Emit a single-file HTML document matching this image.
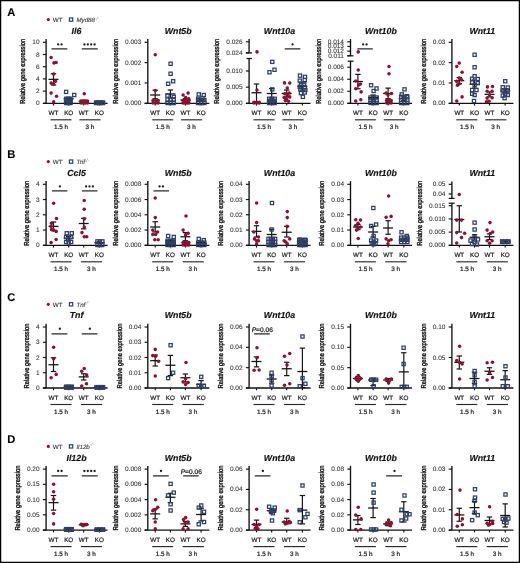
<!DOCTYPE html>
<html><head><meta charset="utf-8"><style>html,body{margin:0;padding:0;background:#fff;}body{width:520px;height:563px;overflow:hidden;font-family:"Liberation Sans",sans-serif;}svg{display:block;will-change:transform;filter:blur(0.3px);}text{text-rendering:geometricPrecision;}</style></head><body>
<svg width="520" height="563" viewBox="0 0 520 563" font-family="Liberation Sans, sans-serif">
<rect x="0" y="0" width="520" height="563" fill="#fff"/>
<rect x="0.6" y="0.6" width="518.8" height="561.8" fill="none" stroke="#000" stroke-width="1.3"/>
<text x="7.3" y="15.8" font-size="11.2" text-anchor="start" font-weight="bold" font-style="normal" fill="#000" stroke="#000" stroke-width="0.1" >A</text>
<circle cx="48.3" cy="19.6" r="1.6" fill="#8e1030"/>
<text x="52.8" y="21.8" font-size="6.3" text-anchor="start" font-weight="normal" font-style="normal" fill="#2a2a2a" stroke="#2a2a2a" stroke-width="0.08" >WT</text>
<rect x="69.4" y="17.95" width="3.3" height="3.3" fill="none" stroke="#2e3f68" stroke-width="1.2"/>
<text x="76.4" y="21.8" font-size="6.2" fill="#3a3a3a" stroke="#3a3a3a" stroke-width="0.12" font-style="italic">Myd88<tspan font-size="4.4" dy="-2.3" fill="#777" stroke="none">-/-</tspan></text>
<text x="76.5" y="33.7" font-size="8.8" text-anchor="middle" font-weight="bold" font-style="italic" fill="#111" stroke="#111" stroke-width="0.15" >Il6</text>
<line x1="46.1" y1="39.1" x2="46.1" y2="103.3" stroke="#111" stroke-width="1.35"/>
<line x1="42.9" y1="103.3" x2="107.6" y2="103.3" stroke="#111" stroke-width="1.3"/>
<line x1="42.9" y1="103.3" x2="46.1" y2="103.3" stroke="#111" stroke-width="1.15"/>
<text x="39.6" y="105.3" font-size="6.5" text-anchor="end" font-weight="normal" font-style="normal" fill="#333" stroke="#333" stroke-width="0.08" >0</text>
<line x1="42.9" y1="91.1" x2="46.1" y2="91.1" stroke="#111" stroke-width="1.15"/>
<text x="39.6" y="93.1" font-size="6.5" text-anchor="end" font-weight="normal" font-style="normal" fill="#333" stroke="#333" stroke-width="0.08" >2</text>
<line x1="42.9" y1="78.9" x2="46.1" y2="78.9" stroke="#111" stroke-width="1.15"/>
<text x="39.6" y="80.9" font-size="6.5" text-anchor="end" font-weight="normal" font-style="normal" fill="#333" stroke="#333" stroke-width="0.08" >4</text>
<line x1="42.9" y1="66.7" x2="46.1" y2="66.7" stroke="#111" stroke-width="1.15"/>
<text x="39.6" y="68.7" font-size="6.5" text-anchor="end" font-weight="normal" font-style="normal" fill="#333" stroke="#333" stroke-width="0.08" >6</text>
<line x1="42.9" y1="54.5" x2="46.1" y2="54.5" stroke="#111" stroke-width="1.15"/>
<text x="39.6" y="56.5" font-size="6.5" text-anchor="end" font-weight="normal" font-style="normal" fill="#333" stroke="#333" stroke-width="0.08" >8</text>
<line x1="42.9" y1="42.3" x2="46.1" y2="42.3" stroke="#111" stroke-width="1.15"/>
<text x="39.6" y="44.3" font-size="6.5" text-anchor="end" font-weight="normal" font-style="normal" fill="#333" stroke="#333" stroke-width="0.08" >10</text>
<text transform="translate(25.27,71.3) rotate(-90)" font-size="7.2" text-anchor="middle" fill="#1a1a1a" stroke="#1a1a1a" stroke-width="0.4" textLength="65" lengthAdjust="spacingAndGlyphs">Relative gene expression</text>
<line x1="53.5" y1="103.3" x2="53.5" y2="105.6" stroke="#111" stroke-width="1.15"/>
<text x="53.5" y="115.3" font-size="6.3" text-anchor="middle" font-weight="normal" font-style="normal" fill="#1e1e1e" stroke="#1e1e1e" stroke-width="0.22" >WT</text>
<line x1="68.7" y1="103.3" x2="68.7" y2="105.6" stroke="#111" stroke-width="1.15"/>
<text x="68.7" y="115.3" font-size="6.3" text-anchor="middle" font-weight="normal" font-style="normal" fill="#1e1e1e" stroke="#1e1e1e" stroke-width="0.22" >KO</text>
<line x1="83.7" y1="103.3" x2="83.7" y2="105.6" stroke="#111" stroke-width="1.15"/>
<text x="83.7" y="115.3" font-size="6.3" text-anchor="middle" font-weight="normal" font-style="normal" fill="#1e1e1e" stroke="#1e1e1e" stroke-width="0.22" >WT</text>
<line x1="99.4" y1="103.3" x2="99.4" y2="105.6" stroke="#111" stroke-width="1.15"/>
<text x="99.4" y="115.3" font-size="6.3" text-anchor="middle" font-weight="normal" font-style="normal" fill="#1e1e1e" stroke="#1e1e1e" stroke-width="0.22" >KO</text>
<line x1="50.5" y1="119.8" x2="71.5" y2="119.8" stroke="#2a2a2a" stroke-width="1.15"/>
<line x1="79.4" y1="119.8" x2="100.6" y2="119.8" stroke="#2a2a2a" stroke-width="1.15"/>
<text x="61.1" y="129.2" font-size="6.3" text-anchor="middle" font-weight="normal" font-style="normal" fill="#1e1e1e" stroke="#1e1e1e" stroke-width="0.22" >1.5 h</text>
<text x="89.8" y="129.2" font-size="6.3" text-anchor="middle" font-weight="normal" font-style="normal" fill="#1e1e1e" stroke="#1e1e1e" stroke-width="0.22" >3 h</text>
<line x1="53.5" y1="73.75" x2="53.5" y2="85" stroke="#161616" stroke-width="1.2"/>
<line x1="50.8" y1="73.75" x2="56.2" y2="73.75" stroke="#161616" stroke-width="1.2"/>
<line x1="50.8" y1="85" x2="56.2" y2="85" stroke="#161616" stroke-width="1.2"/>
<line x1="48.5" y1="79.38" x2="58.5" y2="79.38" stroke="#161616" stroke-width="1.3"/>
<line x1="68.7" y1="97.5" x2="68.7" y2="100" stroke="#161616" stroke-width="1.2"/>
<line x1="66" y1="97.5" x2="71.4" y2="97.5" stroke="#161616" stroke-width="1.2"/>
<line x1="66" y1="100" x2="71.4" y2="100" stroke="#161616" stroke-width="1.2"/>
<line x1="63.7" y1="98.75" x2="73.7" y2="98.75" stroke="#161616" stroke-width="1.3"/>
<line x1="83.7" y1="100.25" x2="83.7" y2="102.25" stroke="#161616" stroke-width="1.2"/>
<line x1="81" y1="100.25" x2="86.4" y2="100.25" stroke="#161616" stroke-width="1.2"/>
<line x1="81" y1="102.25" x2="86.4" y2="102.25" stroke="#161616" stroke-width="1.2"/>
<line x1="78.7" y1="101.25" x2="88.7" y2="101.25" stroke="#161616" stroke-width="1.3"/>
<line x1="99.4" y1="101.75" x2="99.4" y2="102.5" stroke="#161616" stroke-width="1.2"/>
<line x1="96.7" y1="101.75" x2="102.1" y2="101.75" stroke="#161616" stroke-width="1.2"/>
<line x1="96.7" y1="102.5" x2="102.1" y2="102.5" stroke="#161616" stroke-width="1.2"/>
<line x1="94.4" y1="102.12" x2="104.4" y2="102.12" stroke="#161616" stroke-width="1.3"/>
<circle cx="51.12" cy="57.5" r="1.76" fill="#8e1030"/>
<circle cx="54" cy="62.88" r="1.76" fill="#8e1030"/>
<circle cx="56.12" cy="62.5" r="1.76" fill="#8e1030"/>
<circle cx="53.62" cy="74" r="1.76" fill="#8e1030"/>
<circle cx="51.12" cy="83.12" r="1.76" fill="#8e1030"/>
<circle cx="55.5" cy="81.25" r="1.76" fill="#8e1030"/>
<circle cx="53.62" cy="84" r="1.76" fill="#8e1030"/>
<circle cx="51.12" cy="93.12" r="1.76" fill="#8e1030"/>
<circle cx="56.5" cy="96.25" r="1.76" fill="#8e1030"/>
<circle cx="53.62" cy="101.88" r="1.76" fill="#8e1030"/>
<rect x="64.55" y="97.18" width="3.2" height="3.2" fill="none" stroke="#2e3f68" stroke-width="1.25"/>
<rect x="64.55" y="99.29" width="3.2" height="3.2" fill="none" stroke="#2e3f68" stroke-width="1.25"/>
<rect x="64.55" y="101.4" width="3.2" height="3.2" fill="none" stroke="#2e3f68" stroke-width="1.25"/>
<rect x="66.71" y="97.18" width="3.2" height="3.2" fill="none" stroke="#2e3f68" stroke-width="1.25"/>
<rect x="66.71" y="99.29" width="3.2" height="3.2" fill="none" stroke="#2e3f68" stroke-width="1.25"/>
<rect x="66.71" y="101.4" width="3.2" height="3.2" fill="none" stroke="#2e3f68" stroke-width="1.25"/>
<rect x="68.88" y="97.18" width="3.2" height="3.2" fill="none" stroke="#2e3f68" stroke-width="1.25"/>
<rect x="68.88" y="99.29" width="3.2" height="3.2" fill="none" stroke="#2e3f68" stroke-width="1.25"/>
<rect x="68.88" y="101.4" width="3.2" height="3.2" fill="none" stroke="#2e3f68" stroke-width="1.25"/>
<rect x="64.53" y="90.28" width="3.2" height="3.2" fill="none" stroke="#2e3f68" stroke-width="1.25"/>
<rect x="72.65" y="93.4" width="3.2" height="3.2" fill="none" stroke="#2e3f68" stroke-width="1.25"/>
<circle cx="81" cy="101.12" r="1.76" fill="#8e1030"/>
<circle cx="81" cy="103" r="1.76" fill="#8e1030"/>
<circle cx="83.17" cy="101.12" r="1.76" fill="#8e1030"/>
<circle cx="83.17" cy="103" r="1.76" fill="#8e1030"/>
<circle cx="85.33" cy="101.12" r="1.76" fill="#8e1030"/>
<circle cx="85.33" cy="103" r="1.76" fill="#8e1030"/>
<circle cx="87.5" cy="101.12" r="1.76" fill="#8e1030"/>
<circle cx="87.5" cy="103" r="1.76" fill="#8e1030"/>
<circle cx="84.25" cy="93.75" r="1.76" fill="#8e1030"/>
<rect x="94.55" y="100.93" width="3.2" height="3.2" fill="none" stroke="#2e3f68" stroke-width="1.25"/>
<rect x="94.55" y="101.4" width="3.2" height="3.2" fill="none" stroke="#2e3f68" stroke-width="1.25"/>
<rect x="96.83" y="100.93" width="3.2" height="3.2" fill="none" stroke="#2e3f68" stroke-width="1.25"/>
<rect x="96.83" y="101.4" width="3.2" height="3.2" fill="none" stroke="#2e3f68" stroke-width="1.25"/>
<rect x="99.1" y="100.93" width="3.2" height="3.2" fill="none" stroke="#2e3f68" stroke-width="1.25"/>
<rect x="99.1" y="101.4" width="3.2" height="3.2" fill="none" stroke="#2e3f68" stroke-width="1.25"/>
<rect x="101.38" y="100.93" width="3.2" height="3.2" fill="none" stroke="#2e3f68" stroke-width="1.25"/>
<rect x="101.38" y="101.4" width="3.2" height="3.2" fill="none" stroke="#2e3f68" stroke-width="1.25"/>
<line x1="51.5" y1="48.88" x2="67.38" y2="48.88" stroke="#262626" stroke-width="1.25"/>
<circle cx="58.17" cy="44.38" r="1.15" fill="#1a1a1a"/>
<circle cx="61.57" cy="44.38" r="1.15" fill="#1a1a1a"/>
<line x1="81.75" y1="48.88" x2="97.75" y2="48.88" stroke="#262626" stroke-width="1.25"/>
<circle cx="84.4" cy="44.38" r="1.15" fill="#1a1a1a"/>
<circle cx="87.8" cy="44.38" r="1.15" fill="#1a1a1a"/>
<circle cx="91.2" cy="44.38" r="1.15" fill="#1a1a1a"/>
<circle cx="94.6" cy="44.38" r="1.15" fill="#1a1a1a"/>
<text x="178.2" y="33.7" font-size="8.8" text-anchor="middle" font-weight="bold" font-style="italic" fill="#111" stroke="#111" stroke-width="0.15" >Wnt5b</text>
<line x1="147.8" y1="39.1" x2="147.8" y2="103.3" stroke="#111" stroke-width="1.35"/>
<line x1="144.6" y1="103.3" x2="209.3" y2="103.3" stroke="#111" stroke-width="1.3"/>
<line x1="144.6" y1="103.3" x2="147.8" y2="103.3" stroke="#111" stroke-width="1.15"/>
<text x="141.3" y="105.3" font-size="6.5" text-anchor="end" font-weight="normal" font-style="normal" fill="#333" stroke="#333" stroke-width="0.08" >0.000</text>
<line x1="144.6" y1="82.97" x2="147.8" y2="82.97" stroke="#111" stroke-width="1.15"/>
<text x="141.3" y="84.97" font-size="6.5" text-anchor="end" font-weight="normal" font-style="normal" fill="#333" stroke="#333" stroke-width="0.08" >0.001</text>
<line x1="144.6" y1="62.63" x2="147.8" y2="62.63" stroke="#111" stroke-width="1.15"/>
<text x="141.3" y="64.63" font-size="6.5" text-anchor="end" font-weight="normal" font-style="normal" fill="#333" stroke="#333" stroke-width="0.08" >0.002</text>
<line x1="144.6" y1="42.3" x2="147.8" y2="42.3" stroke="#111" stroke-width="1.15"/>
<text x="141.3" y="44.3" font-size="6.5" text-anchor="end" font-weight="normal" font-style="normal" fill="#333" stroke="#333" stroke-width="0.08" >0.003</text>
<text transform="translate(117.94,71.3) rotate(-90)" font-size="7.2" text-anchor="middle" fill="#1a1a1a" stroke="#1a1a1a" stroke-width="0.4" textLength="65" lengthAdjust="spacingAndGlyphs">Relative gene expression</text>
<line x1="155.2" y1="103.3" x2="155.2" y2="105.6" stroke="#111" stroke-width="1.15"/>
<text x="155.2" y="115.3" font-size="6.3" text-anchor="middle" font-weight="normal" font-style="normal" fill="#1e1e1e" stroke="#1e1e1e" stroke-width="0.22" >WT</text>
<line x1="170.4" y1="103.3" x2="170.4" y2="105.6" stroke="#111" stroke-width="1.15"/>
<text x="170.4" y="115.3" font-size="6.3" text-anchor="middle" font-weight="normal" font-style="normal" fill="#1e1e1e" stroke="#1e1e1e" stroke-width="0.22" >KO</text>
<line x1="185.4" y1="103.3" x2="185.4" y2="105.6" stroke="#111" stroke-width="1.15"/>
<text x="185.4" y="115.3" font-size="6.3" text-anchor="middle" font-weight="normal" font-style="normal" fill="#1e1e1e" stroke="#1e1e1e" stroke-width="0.22" >WT</text>
<line x1="201.1" y1="103.3" x2="201.1" y2="105.6" stroke="#111" stroke-width="1.15"/>
<text x="201.1" y="115.3" font-size="6.3" text-anchor="middle" font-weight="normal" font-style="normal" fill="#1e1e1e" stroke="#1e1e1e" stroke-width="0.22" >KO</text>
<line x1="152.2" y1="119.8" x2="173.2" y2="119.8" stroke="#2a2a2a" stroke-width="1.15"/>
<line x1="181.1" y1="119.8" x2="202.3" y2="119.8" stroke="#2a2a2a" stroke-width="1.15"/>
<text x="162.8" y="129.2" font-size="6.3" text-anchor="middle" font-weight="normal" font-style="normal" fill="#1e1e1e" stroke="#1e1e1e" stroke-width="0.22" >1.5 h</text>
<text x="191.5" y="129.2" font-size="6.3" text-anchor="middle" font-weight="normal" font-style="normal" fill="#1e1e1e" stroke="#1e1e1e" stroke-width="0.22" >3 h</text>
<line x1="155.2" y1="90.25" x2="155.2" y2="98.75" stroke="#161616" stroke-width="1.2"/>
<line x1="152.5" y1="90.25" x2="157.9" y2="90.25" stroke="#161616" stroke-width="1.2"/>
<line x1="152.5" y1="98.75" x2="157.9" y2="98.75" stroke="#161616" stroke-width="1.2"/>
<line x1="150.2" y1="95" x2="160.2" y2="95" stroke="#161616" stroke-width="1.3"/>
<line x1="170.4" y1="90" x2="170.4" y2="98.12" stroke="#161616" stroke-width="1.2"/>
<line x1="167.7" y1="90" x2="173.1" y2="90" stroke="#161616" stroke-width="1.2"/>
<line x1="167.7" y1="98.12" x2="173.1" y2="98.12" stroke="#161616" stroke-width="1.2"/>
<line x1="165.4" y1="94" x2="175.4" y2="94" stroke="#161616" stroke-width="1.3"/>
<line x1="185.4" y1="98.75" x2="185.4" y2="101.25" stroke="#161616" stroke-width="1.2"/>
<line x1="182.7" y1="98.75" x2="188.1" y2="98.75" stroke="#161616" stroke-width="1.2"/>
<line x1="182.7" y1="101.25" x2="188.1" y2="101.25" stroke="#161616" stroke-width="1.2"/>
<line x1="180.4" y1="100" x2="190.4" y2="100" stroke="#161616" stroke-width="1.3"/>
<line x1="201.1" y1="98.75" x2="201.1" y2="101.25" stroke="#161616" stroke-width="1.2"/>
<line x1="198.4" y1="98.75" x2="203.8" y2="98.75" stroke="#161616" stroke-width="1.2"/>
<line x1="198.4" y1="101.25" x2="203.8" y2="101.25" stroke="#161616" stroke-width="1.2"/>
<line x1="196.1" y1="100" x2="206.1" y2="100" stroke="#161616" stroke-width="1.3"/>
<circle cx="153" cy="100.5" r="1.76" fill="#8e1030"/>
<circle cx="153" cy="103" r="1.76" fill="#8e1030"/>
<circle cx="155.62" cy="100.5" r="1.76" fill="#8e1030"/>
<circle cx="155.62" cy="103" r="1.76" fill="#8e1030"/>
<circle cx="158.25" cy="100.5" r="1.76" fill="#8e1030"/>
<circle cx="158.25" cy="103" r="1.76" fill="#8e1030"/>
<circle cx="155.25" cy="54.75" r="1.76" fill="#8e1030"/>
<circle cx="155.25" cy="90.62" r="1.76" fill="#8e1030"/>
<rect x="165.93" y="97.8" width="3.2" height="3.2" fill="none" stroke="#2e3f68" stroke-width="1.25"/>
<rect x="165.93" y="101.4" width="3.2" height="3.2" fill="none" stroke="#2e3f68" stroke-width="1.25"/>
<rect x="169.03" y="97.8" width="3.2" height="3.2" fill="none" stroke="#2e3f68" stroke-width="1.25"/>
<rect x="169.03" y="101.4" width="3.2" height="3.2" fill="none" stroke="#2e3f68" stroke-width="1.25"/>
<rect x="172.12" y="97.8" width="3.2" height="3.2" fill="none" stroke="#2e3f68" stroke-width="1.25"/>
<rect x="172.12" y="101.4" width="3.2" height="3.2" fill="none" stroke="#2e3f68" stroke-width="1.25"/>
<rect x="169.03" y="62.15" width="3.2" height="3.2" fill="none" stroke="#2e3f68" stroke-width="1.25"/>
<rect x="169.03" y="72.15" width="3.2" height="3.2" fill="none" stroke="#2e3f68" stroke-width="1.25"/>
<rect x="171.53" y="79.65" width="3.2" height="3.2" fill="none" stroke="#2e3f68" stroke-width="1.25"/>
<rect x="166.53" y="82.15" width="3.2" height="3.2" fill="none" stroke="#2e3f68" stroke-width="1.25"/>
<rect x="165.9" y="94.03" width="3.2" height="3.2" fill="none" stroke="#2e3f68" stroke-width="1.25"/>
<rect x="172.15" y="95.28" width="3.2" height="3.2" fill="none" stroke="#2e3f68" stroke-width="1.25"/>
<circle cx="183" cy="100.5" r="1.76" fill="#8e1030"/>
<circle cx="183" cy="103" r="1.76" fill="#8e1030"/>
<circle cx="184.96" cy="100.5" r="1.76" fill="#8e1030"/>
<circle cx="184.96" cy="103" r="1.76" fill="#8e1030"/>
<circle cx="186.92" cy="100.5" r="1.76" fill="#8e1030"/>
<circle cx="186.92" cy="103" r="1.76" fill="#8e1030"/>
<circle cx="188.88" cy="100.5" r="1.76" fill="#8e1030"/>
<circle cx="188.88" cy="103" r="1.76" fill="#8e1030"/>
<circle cx="188.12" cy="93.12" r="1.76" fill="#8e1030"/>
<circle cx="183.12" cy="95" r="1.76" fill="#8e1030"/>
<circle cx="185.62" cy="97.5" r="1.76" fill="#8e1030"/>
<circle cx="188.75" cy="98.75" r="1.76" fill="#8e1030"/>
<rect x="196.55" y="98.43" width="3.2" height="3.2" fill="none" stroke="#2e3f68" stroke-width="1.25"/>
<rect x="196.55" y="101.4" width="3.2" height="3.2" fill="none" stroke="#2e3f68" stroke-width="1.25"/>
<rect x="199.65" y="98.43" width="3.2" height="3.2" fill="none" stroke="#2e3f68" stroke-width="1.25"/>
<rect x="199.65" y="101.4" width="3.2" height="3.2" fill="none" stroke="#2e3f68" stroke-width="1.25"/>
<rect x="202.75" y="98.43" width="3.2" height="3.2" fill="none" stroke="#2e3f68" stroke-width="1.25"/>
<rect x="202.75" y="101.4" width="3.2" height="3.2" fill="none" stroke="#2e3f68" stroke-width="1.25"/>
<rect x="197.15" y="92.78" width="3.2" height="3.2" fill="none" stroke="#2e3f68" stroke-width="1.25"/>
<rect x="202.15" y="93.4" width="3.2" height="3.2" fill="none" stroke="#2e3f68" stroke-width="1.25"/>
<rect x="196.53" y="97.15" width="3.2" height="3.2" fill="none" stroke="#2e3f68" stroke-width="1.25"/>
<rect x="200.9" y="96.53" width="3.2" height="3.2" fill="none" stroke="#2e3f68" stroke-width="1.25"/>
<text x="279.5" y="33.7" font-size="8.8" text-anchor="middle" font-weight="bold" font-style="italic" fill="#111" stroke="#111" stroke-width="0.15" >Wnt10a</text>
<line x1="249.1" y1="39.1" x2="249.1" y2="52.9" stroke="#111" stroke-width="1.35"/>
<line x1="249.1" y1="58.5" x2="249.1" y2="103.3" stroke="#111" stroke-width="1.35"/>
<line x1="245.9" y1="52.9" x2="252.1" y2="52.9" stroke="#111" stroke-width="1.25"/>
<line x1="246.5" y1="58.5" x2="251.9" y2="58.5" stroke="#111" stroke-width="1.25"/>
<line x1="245.9" y1="103.3" x2="310.6" y2="103.3" stroke="#111" stroke-width="1.3"/>
<line x1="245.9" y1="103.3" x2="249.1" y2="103.3" stroke="#111" stroke-width="1.15"/>
<text x="242.6" y="105.3" font-size="6.5" text-anchor="end" font-weight="normal" font-style="normal" fill="#333" stroke="#333" stroke-width="0.08" >0.000</text>
<line x1="245.9" y1="87.15" x2="249.1" y2="87.15" stroke="#111" stroke-width="1.15"/>
<text x="242.6" y="89.15" font-size="6.5" text-anchor="end" font-weight="normal" font-style="normal" fill="#333" stroke="#333" stroke-width="0.08" >0.005</text>
<line x1="245.9" y1="71" x2="249.1" y2="71" stroke="#111" stroke-width="1.15"/>
<text x="242.6" y="73" font-size="6.5" text-anchor="end" font-weight="normal" font-style="normal" fill="#333" stroke="#333" stroke-width="0.08" >0.010</text>
<line x1="245.9" y1="52.9" x2="249.1" y2="52.9" stroke="#111" stroke-width="1.15"/>
<text x="242.6" y="54.9" font-size="6.5" text-anchor="end" font-weight="normal" font-style="normal" fill="#333" stroke="#333" stroke-width="0.08" >0.024</text>
<line x1="245.9" y1="41.8" x2="249.1" y2="41.8" stroke="#111" stroke-width="1.15"/>
<text x="242.6" y="43.8" font-size="6.5" text-anchor="end" font-weight="normal" font-style="normal" fill="#333" stroke="#333" stroke-width="0.08" >0.026</text>
<text transform="translate(219.24,71.3) rotate(-90)" font-size="7.2" text-anchor="middle" fill="#1a1a1a" stroke="#1a1a1a" stroke-width="0.4" textLength="65" lengthAdjust="spacingAndGlyphs">Relative gene expression</text>
<line x1="256.5" y1="103.3" x2="256.5" y2="105.6" stroke="#111" stroke-width="1.15"/>
<text x="256.5" y="115.3" font-size="6.3" text-anchor="middle" font-weight="normal" font-style="normal" fill="#1e1e1e" stroke="#1e1e1e" stroke-width="0.22" >WT</text>
<line x1="271.7" y1="103.3" x2="271.7" y2="105.6" stroke="#111" stroke-width="1.15"/>
<text x="271.7" y="115.3" font-size="6.3" text-anchor="middle" font-weight="normal" font-style="normal" fill="#1e1e1e" stroke="#1e1e1e" stroke-width="0.22" >KO</text>
<line x1="286.7" y1="103.3" x2="286.7" y2="105.6" stroke="#111" stroke-width="1.15"/>
<text x="286.7" y="115.3" font-size="6.3" text-anchor="middle" font-weight="normal" font-style="normal" fill="#1e1e1e" stroke="#1e1e1e" stroke-width="0.22" >WT</text>
<line x1="302.4" y1="103.3" x2="302.4" y2="105.6" stroke="#111" stroke-width="1.15"/>
<text x="302.4" y="115.3" font-size="6.3" text-anchor="middle" font-weight="normal" font-style="normal" fill="#1e1e1e" stroke="#1e1e1e" stroke-width="0.22" >KO</text>
<line x1="253.5" y1="119.8" x2="274.5" y2="119.8" stroke="#2a2a2a" stroke-width="1.15"/>
<line x1="282.4" y1="119.8" x2="303.6" y2="119.8" stroke="#2a2a2a" stroke-width="1.15"/>
<text x="264.1" y="129.2" font-size="6.3" text-anchor="middle" font-weight="normal" font-style="normal" fill="#1e1e1e" stroke="#1e1e1e" stroke-width="0.22" >1.5 h</text>
<text x="292.8" y="129.2" font-size="6.3" text-anchor="middle" font-weight="normal" font-style="normal" fill="#1e1e1e" stroke="#1e1e1e" stroke-width="0.22" >3 h</text>
<line x1="256.5" y1="84" x2="256.5" y2="103.12" stroke="#161616" stroke-width="1.2"/>
<line x1="253.8" y1="84" x2="259.2" y2="84" stroke="#161616" stroke-width="1.2"/>
<line x1="253.8" y1="103.12" x2="259.2" y2="103.12" stroke="#161616" stroke-width="1.2"/>
<line x1="251.5" y1="92.75" x2="261.5" y2="92.75" stroke="#161616" stroke-width="1.3"/>
<line x1="271.7" y1="88.5" x2="271.7" y2="98.12" stroke="#161616" stroke-width="1.2"/>
<line x1="269" y1="88.5" x2="274.4" y2="88.5" stroke="#161616" stroke-width="1.2"/>
<line x1="269" y1="98.12" x2="274.4" y2="98.12" stroke="#161616" stroke-width="1.2"/>
<line x1="266.7" y1="93.5" x2="276.7" y2="93.5" stroke="#161616" stroke-width="1.3"/>
<line x1="286.7" y1="90" x2="286.7" y2="96.88" stroke="#161616" stroke-width="1.2"/>
<line x1="284" y1="90" x2="289.4" y2="90" stroke="#161616" stroke-width="1.2"/>
<line x1="284" y1="96.88" x2="289.4" y2="96.88" stroke="#161616" stroke-width="1.2"/>
<line x1="281.7" y1="93.5" x2="291.7" y2="93.5" stroke="#161616" stroke-width="1.3"/>
<line x1="302.4" y1="83.12" x2="302.4" y2="90" stroke="#161616" stroke-width="1.2"/>
<line x1="299.7" y1="83.12" x2="305.1" y2="83.12" stroke="#161616" stroke-width="1.2"/>
<line x1="299.7" y1="90" x2="305.1" y2="90" stroke="#161616" stroke-width="1.2"/>
<line x1="297.4" y1="86.25" x2="307.4" y2="86.25" stroke="#161616" stroke-width="1.3"/>
<circle cx="254" cy="102.38" r="1.76" fill="#8e1030"/>
<circle cx="254" cy="103" r="1.76" fill="#8e1030"/>
<circle cx="256.62" cy="102.38" r="1.76" fill="#8e1030"/>
<circle cx="256.62" cy="103" r="1.76" fill="#8e1030"/>
<circle cx="259.25" cy="102.38" r="1.76" fill="#8e1030"/>
<circle cx="259.25" cy="103" r="1.76" fill="#8e1030"/>
<circle cx="257" cy="51.88" r="1.76" fill="#8e1030"/>
<circle cx="257" cy="90" r="1.76" fill="#8e1030"/>
<rect x="267.55" y="97.18" width="3.2" height="3.2" fill="none" stroke="#2e3f68" stroke-width="1.25"/>
<rect x="267.55" y="99.29" width="3.2" height="3.2" fill="none" stroke="#2e3f68" stroke-width="1.25"/>
<rect x="267.55" y="101.4" width="3.2" height="3.2" fill="none" stroke="#2e3f68" stroke-width="1.25"/>
<rect x="270.34" y="97.18" width="3.2" height="3.2" fill="none" stroke="#2e3f68" stroke-width="1.25"/>
<rect x="270.34" y="99.29" width="3.2" height="3.2" fill="none" stroke="#2e3f68" stroke-width="1.25"/>
<rect x="270.34" y="101.4" width="3.2" height="3.2" fill="none" stroke="#2e3f68" stroke-width="1.25"/>
<rect x="273.12" y="97.18" width="3.2" height="3.2" fill="none" stroke="#2e3f68" stroke-width="1.25"/>
<rect x="273.12" y="99.29" width="3.2" height="3.2" fill="none" stroke="#2e3f68" stroke-width="1.25"/>
<rect x="273.12" y="101.4" width="3.2" height="3.2" fill="none" stroke="#2e3f68" stroke-width="1.25"/>
<rect x="270.65" y="60.27" width="3.2" height="3.2" fill="none" stroke="#2e3f68" stroke-width="1.25"/>
<rect x="272.9" y="68.15" width="3.2" height="3.2" fill="none" stroke="#2e3f68" stroke-width="1.25"/>
<rect x="267.9" y="70.65" width="3.2" height="3.2" fill="none" stroke="#2e3f68" stroke-width="1.25"/>
<rect x="270.65" y="87.78" width="3.2" height="3.2" fill="none" stroke="#2e3f68" stroke-width="1.25"/>
<circle cx="284.5" cy="82.88" r="1.76" fill="#8e1030"/>
<circle cx="289.75" cy="83.12" r="1.76" fill="#8e1030"/>
<circle cx="287.25" cy="88.12" r="1.76" fill="#8e1030"/>
<circle cx="284.75" cy="93.75" r="1.76" fill="#8e1030"/>
<circle cx="289.12" cy="93.12" r="1.76" fill="#8e1030"/>
<circle cx="287.25" cy="95" r="1.76" fill="#8e1030"/>
<circle cx="284.12" cy="97.5" r="1.76" fill="#8e1030"/>
<circle cx="289.75" cy="96.88" r="1.76" fill="#8e1030"/>
<circle cx="286.62" cy="98.75" r="1.76" fill="#8e1030"/>
<circle cx="288.5" cy="101.25" r="1.76" fill="#8e1030"/>
<circle cx="285.38" cy="100.62" r="1.76" fill="#8e1030"/>
<rect x="298.4" y="74.03" width="3.2" height="3.2" fill="none" stroke="#2e3f68" stroke-width="1.25"/>
<rect x="303.4" y="75.28" width="3.2" height="3.2" fill="none" stroke="#2e3f68" stroke-width="1.25"/>
<rect x="298.15" y="79.03" width="3.2" height="3.2" fill="none" stroke="#2e3f68" stroke-width="1.25"/>
<rect x="303.15" y="78.4" width="3.2" height="3.2" fill="none" stroke="#2e3f68" stroke-width="1.25"/>
<rect x="299.4" y="82.15" width="3.2" height="3.2" fill="none" stroke="#2e3f68" stroke-width="1.25"/>
<rect x="302.52" y="82.15" width="3.2" height="3.2" fill="none" stroke="#2e3f68" stroke-width="1.25"/>
<rect x="298.15" y="85.28" width="3.2" height="3.2" fill="none" stroke="#2e3f68" stroke-width="1.25"/>
<rect x="303.15" y="85.9" width="3.2" height="3.2" fill="none" stroke="#2e3f68" stroke-width="1.25"/>
<rect x="298.77" y="87.78" width="3.2" height="3.2" fill="none" stroke="#2e3f68" stroke-width="1.25"/>
<rect x="303.77" y="88.4" width="3.2" height="3.2" fill="none" stroke="#2e3f68" stroke-width="1.25"/>
<rect x="299.4" y="91.53" width="3.2" height="3.2" fill="none" stroke="#2e3f68" stroke-width="1.25"/>
<rect x="303.15" y="90.9" width="3.2" height="3.2" fill="none" stroke="#2e3f68" stroke-width="1.25"/>
<rect x="301.27" y="95.28" width="3.2" height="3.2" fill="none" stroke="#2e3f68" stroke-width="1.25"/>
<line x1="284.75" y1="48.88" x2="300.38" y2="48.88" stroke="#262626" stroke-width="1.25"/>
<circle cx="292.5" cy="44.38" r="1.15" fill="#1a1a1a"/>
<text x="380.9" y="33.7" font-size="8.8" text-anchor="middle" font-weight="bold" font-style="italic" fill="#111" stroke="#111" stroke-width="0.15" >Wnt10b</text>
<line x1="350.5" y1="39.1" x2="350.5" y2="55.8" stroke="#111" stroke-width="1.35"/>
<line x1="350.5" y1="61.2" x2="350.5" y2="103.3" stroke="#111" stroke-width="1.35"/>
<line x1="347.3" y1="55.8" x2="353.5" y2="55.8" stroke="#111" stroke-width="1.25"/>
<line x1="347.8" y1="61.2" x2="353.5" y2="61.2" stroke="#111" stroke-width="1.25"/>
<line x1="347.3" y1="103.3" x2="412" y2="103.3" stroke="#111" stroke-width="1.3"/>
<line x1="347.3" y1="103.3" x2="350.5" y2="103.3" stroke="#111" stroke-width="1.15"/>
<text x="344" y="105.3" font-size="6.5" text-anchor="end" font-weight="normal" font-style="normal" fill="#333" stroke="#333" stroke-width="0.08" >0.000</text>
<line x1="347.3" y1="91.27" x2="350.5" y2="91.27" stroke="#111" stroke-width="1.15"/>
<text x="344" y="93.27" font-size="6.5" text-anchor="end" font-weight="normal" font-style="normal" fill="#333" stroke="#333" stroke-width="0.08" >0.002</text>
<line x1="347.3" y1="79.24" x2="350.5" y2="79.24" stroke="#111" stroke-width="1.15"/>
<text x="344" y="81.24" font-size="6.5" text-anchor="end" font-weight="normal" font-style="normal" fill="#333" stroke="#333" stroke-width="0.08" >0.004</text>
<line x1="347.3" y1="67.21" x2="350.5" y2="67.21" stroke="#111" stroke-width="1.15"/>
<text x="344" y="69.21" font-size="6.5" text-anchor="end" font-weight="normal" font-style="normal" fill="#333" stroke="#333" stroke-width="0.08" >0.006</text>
<line x1="347.3" y1="55.8" x2="350.5" y2="55.8" stroke="#111" stroke-width="1.15"/>
<text x="344" y="57.8" font-size="6.5" text-anchor="end" font-weight="normal" font-style="normal" fill="#333" stroke="#333" stroke-width="0.08" >0.011</text>
<line x1="347.3" y1="51.13" x2="350.5" y2="51.13" stroke="#111" stroke-width="1.15"/>
<text x="344" y="53.13" font-size="6.5" text-anchor="end" font-weight="normal" font-style="normal" fill="#333" stroke="#333" stroke-width="0.08" >0.012</text>
<line x1="347.3" y1="46.46" x2="350.5" y2="46.46" stroke="#111" stroke-width="1.15"/>
<text x="344" y="48.46" font-size="6.5" text-anchor="end" font-weight="normal" font-style="normal" fill="#333" stroke="#333" stroke-width="0.08" >0.013</text>
<line x1="347.3" y1="41.79" x2="350.5" y2="41.79" stroke="#111" stroke-width="1.15"/>
<text x="344" y="43.79" font-size="6.5" text-anchor="end" font-weight="normal" font-style="normal" fill="#333" stroke="#333" stroke-width="0.08" >0.014</text>
<text transform="translate(320.64,71.3) rotate(-90)" font-size="7.2" text-anchor="middle" fill="#1a1a1a" stroke="#1a1a1a" stroke-width="0.4" textLength="65" lengthAdjust="spacingAndGlyphs">Relative gene expression</text>
<line x1="357.9" y1="103.3" x2="357.9" y2="105.6" stroke="#111" stroke-width="1.15"/>
<text x="357.9" y="115.3" font-size="6.3" text-anchor="middle" font-weight="normal" font-style="normal" fill="#1e1e1e" stroke="#1e1e1e" stroke-width="0.22" >WT</text>
<line x1="373.1" y1="103.3" x2="373.1" y2="105.6" stroke="#111" stroke-width="1.15"/>
<text x="373.1" y="115.3" font-size="6.3" text-anchor="middle" font-weight="normal" font-style="normal" fill="#1e1e1e" stroke="#1e1e1e" stroke-width="0.22" >KO</text>
<line x1="388.1" y1="103.3" x2="388.1" y2="105.6" stroke="#111" stroke-width="1.15"/>
<text x="388.1" y="115.3" font-size="6.3" text-anchor="middle" font-weight="normal" font-style="normal" fill="#1e1e1e" stroke="#1e1e1e" stroke-width="0.22" >WT</text>
<line x1="403.8" y1="103.3" x2="403.8" y2="105.6" stroke="#111" stroke-width="1.15"/>
<text x="403.8" y="115.3" font-size="6.3" text-anchor="middle" font-weight="normal" font-style="normal" fill="#1e1e1e" stroke="#1e1e1e" stroke-width="0.22" >KO</text>
<line x1="354.9" y1="119.8" x2="375.9" y2="119.8" stroke="#2a2a2a" stroke-width="1.15"/>
<line x1="383.8" y1="119.8" x2="405" y2="119.8" stroke="#2a2a2a" stroke-width="1.15"/>
<text x="365.5" y="129.2" font-size="6.3" text-anchor="middle" font-weight="normal" font-style="normal" fill="#1e1e1e" stroke="#1e1e1e" stroke-width="0.22" >1.5 h</text>
<text x="394.2" y="129.2" font-size="6.3" text-anchor="middle" font-weight="normal" font-style="normal" fill="#1e1e1e" stroke="#1e1e1e" stroke-width="0.22" >3 h</text>
<line x1="357.9" y1="74.38" x2="357.9" y2="88.75" stroke="#161616" stroke-width="1.2"/>
<line x1="355.2" y1="74.38" x2="360.6" y2="74.38" stroke="#161616" stroke-width="1.2"/>
<line x1="355.2" y1="88.75" x2="360.6" y2="88.75" stroke="#161616" stroke-width="1.2"/>
<line x1="352.9" y1="81.5" x2="362.9" y2="81.5" stroke="#161616" stroke-width="1.3"/>
<line x1="373.1" y1="95" x2="373.1" y2="100" stroke="#161616" stroke-width="1.2"/>
<line x1="370.4" y1="95" x2="375.8" y2="95" stroke="#161616" stroke-width="1.2"/>
<line x1="370.4" y1="100" x2="375.8" y2="100" stroke="#161616" stroke-width="1.2"/>
<line x1="368.1" y1="97.5" x2="378.1" y2="97.5" stroke="#161616" stroke-width="1.3"/>
<line x1="388.1" y1="88.12" x2="388.1" y2="98.75" stroke="#161616" stroke-width="1.2"/>
<line x1="385.4" y1="88.12" x2="390.8" y2="88.12" stroke="#161616" stroke-width="1.2"/>
<line x1="385.4" y1="98.75" x2="390.8" y2="98.75" stroke="#161616" stroke-width="1.2"/>
<line x1="383.1" y1="93.5" x2="393.1" y2="93.5" stroke="#161616" stroke-width="1.3"/>
<line x1="403.8" y1="96.88" x2="403.8" y2="100.62" stroke="#161616" stroke-width="1.2"/>
<line x1="401.1" y1="96.88" x2="406.5" y2="96.88" stroke="#161616" stroke-width="1.2"/>
<line x1="401.1" y1="100.62" x2="406.5" y2="100.62" stroke="#161616" stroke-width="1.2"/>
<line x1="398.8" y1="98.75" x2="408.8" y2="98.75" stroke="#161616" stroke-width="1.3"/>
<circle cx="358.25" cy="51.88" r="1.76" fill="#8e1030"/>
<circle cx="358.25" cy="70" r="1.76" fill="#8e1030"/>
<circle cx="355.75" cy="81" r="1.76" fill="#8e1030"/>
<circle cx="360.5" cy="84" r="1.76" fill="#8e1030"/>
<circle cx="358.62" cy="85" r="1.76" fill="#8e1030"/>
<circle cx="355.75" cy="88.75" r="1.76" fill="#8e1030"/>
<circle cx="361.12" cy="91.88" r="1.76" fill="#8e1030"/>
<circle cx="355.75" cy="101" r="1.76" fill="#8e1030"/>
<circle cx="360.75" cy="99.75" r="1.76" fill="#8e1030"/>
<rect x="368.92" y="95.93" width="3.2" height="3.2" fill="none" stroke="#2e3f68" stroke-width="1.25"/>
<rect x="368.92" y="98.66" width="3.2" height="3.2" fill="none" stroke="#2e3f68" stroke-width="1.25"/>
<rect x="368.92" y="101.4" width="3.2" height="3.2" fill="none" stroke="#2e3f68" stroke-width="1.25"/>
<rect x="372.02" y="95.93" width="3.2" height="3.2" fill="none" stroke="#2e3f68" stroke-width="1.25"/>
<rect x="372.02" y="98.66" width="3.2" height="3.2" fill="none" stroke="#2e3f68" stroke-width="1.25"/>
<rect x="372.02" y="101.4" width="3.2" height="3.2" fill="none" stroke="#2e3f68" stroke-width="1.25"/>
<rect x="375.12" y="95.93" width="3.2" height="3.2" fill="none" stroke="#2e3f68" stroke-width="1.25"/>
<rect x="375.12" y="98.66" width="3.2" height="3.2" fill="none" stroke="#2e3f68" stroke-width="1.25"/>
<rect x="375.12" y="101.4" width="3.2" height="3.2" fill="none" stroke="#2e3f68" stroke-width="1.25"/>
<rect x="369.52" y="83.65" width="3.2" height="3.2" fill="none" stroke="#2e3f68" stroke-width="1.25"/>
<rect x="374.9" y="86.9" width="3.2" height="3.2" fill="none" stroke="#2e3f68" stroke-width="1.25"/>
<rect x="372.02" y="89.4" width="3.2" height="3.2" fill="none" stroke="#2e3f68" stroke-width="1.25"/>
<circle cx="386.62" cy="100.5" r="1.76" fill="#8e1030"/>
<circle cx="386.62" cy="103" r="1.76" fill="#8e1030"/>
<circle cx="388.94" cy="100.5" r="1.76" fill="#8e1030"/>
<circle cx="388.94" cy="103" r="1.76" fill="#8e1030"/>
<circle cx="391.25" cy="100.5" r="1.76" fill="#8e1030"/>
<circle cx="391.25" cy="103" r="1.76" fill="#8e1030"/>
<circle cx="389" cy="66.5" r="1.76" fill="#8e1030"/>
<circle cx="389" cy="73.75" r="1.76" fill="#8e1030"/>
<circle cx="386.12" cy="93.12" r="1.76" fill="#8e1030"/>
<circle cx="391.5" cy="93.5" r="1.76" fill="#8e1030"/>
<circle cx="388" cy="95" r="1.76" fill="#8e1030"/>
<rect x="399.55" y="95.3" width="3.2" height="3.2" fill="none" stroke="#2e3f68" stroke-width="1.25"/>
<rect x="399.55" y="98.35" width="3.2" height="3.2" fill="none" stroke="#2e3f68" stroke-width="1.25"/>
<rect x="399.55" y="101.4" width="3.2" height="3.2" fill="none" stroke="#2e3f68" stroke-width="1.25"/>
<rect x="402.65" y="95.3" width="3.2" height="3.2" fill="none" stroke="#2e3f68" stroke-width="1.25"/>
<rect x="402.65" y="98.35" width="3.2" height="3.2" fill="none" stroke="#2e3f68" stroke-width="1.25"/>
<rect x="402.65" y="101.4" width="3.2" height="3.2" fill="none" stroke="#2e3f68" stroke-width="1.25"/>
<rect x="405.75" y="95.3" width="3.2" height="3.2" fill="none" stroke="#2e3f68" stroke-width="1.25"/>
<rect x="405.75" y="98.35" width="3.2" height="3.2" fill="none" stroke="#2e3f68" stroke-width="1.25"/>
<rect x="405.75" y="101.4" width="3.2" height="3.2" fill="none" stroke="#2e3f68" stroke-width="1.25"/>
<rect x="402.9" y="87.78" width="3.2" height="3.2" fill="none" stroke="#2e3f68" stroke-width="1.25"/>
<rect x="400.15" y="92.78" width="3.2" height="3.2" fill="none" stroke="#2e3f68" stroke-width="1.25"/>
<rect x="405.15" y="94.65" width="3.2" height="3.2" fill="none" stroke="#2e3f68" stroke-width="1.25"/>
<line x1="357.38" y1="48.88" x2="372.75" y2="48.88" stroke="#262626" stroke-width="1.25"/>
<circle cx="363.18" cy="44.38" r="1.15" fill="#1a1a1a"/>
<circle cx="366.57" cy="44.38" r="1.15" fill="#1a1a1a"/>
<text x="482.3" y="33.7" font-size="8.8" text-anchor="middle" font-weight="bold" font-style="italic" fill="#111" stroke="#111" stroke-width="0.15" >Wnt11</text>
<line x1="451.9" y1="39.1" x2="451.9" y2="103.3" stroke="#111" stroke-width="1.35"/>
<line x1="448.7" y1="103.3" x2="513.4" y2="103.3" stroke="#111" stroke-width="1.3"/>
<line x1="448.7" y1="103.3" x2="451.9" y2="103.3" stroke="#111" stroke-width="1.15"/>
<text x="445.4" y="105.3" font-size="6.5" text-anchor="end" font-weight="normal" font-style="normal" fill="#333" stroke="#333" stroke-width="0.08" >0.00</text>
<line x1="448.7" y1="82.97" x2="451.9" y2="82.97" stroke="#111" stroke-width="1.15"/>
<text x="445.4" y="84.97" font-size="6.5" text-anchor="end" font-weight="normal" font-style="normal" fill="#333" stroke="#333" stroke-width="0.08" >0.01</text>
<line x1="448.7" y1="62.63" x2="451.9" y2="62.63" stroke="#111" stroke-width="1.15"/>
<text x="445.4" y="64.63" font-size="6.5" text-anchor="end" font-weight="normal" font-style="normal" fill="#333" stroke="#333" stroke-width="0.08" >0.02</text>
<line x1="448.7" y1="42.3" x2="451.9" y2="42.3" stroke="#111" stroke-width="1.15"/>
<text x="445.4" y="44.3" font-size="6.5" text-anchor="end" font-weight="normal" font-style="normal" fill="#333" stroke="#333" stroke-width="0.08" >0.03</text>
<text transform="translate(425.65,71.3) rotate(-90)" font-size="7.2" text-anchor="middle" fill="#1a1a1a" stroke="#1a1a1a" stroke-width="0.4" textLength="65" lengthAdjust="spacingAndGlyphs">Relative gene expression</text>
<line x1="459.3" y1="103.3" x2="459.3" y2="105.6" stroke="#111" stroke-width="1.15"/>
<text x="459.3" y="115.3" font-size="6.3" text-anchor="middle" font-weight="normal" font-style="normal" fill="#1e1e1e" stroke="#1e1e1e" stroke-width="0.22" >WT</text>
<line x1="474.5" y1="103.3" x2="474.5" y2="105.6" stroke="#111" stroke-width="1.15"/>
<text x="474.5" y="115.3" font-size="6.3" text-anchor="middle" font-weight="normal" font-style="normal" fill="#1e1e1e" stroke="#1e1e1e" stroke-width="0.22" >KO</text>
<line x1="489.5" y1="103.3" x2="489.5" y2="105.6" stroke="#111" stroke-width="1.15"/>
<text x="489.5" y="115.3" font-size="6.3" text-anchor="middle" font-weight="normal" font-style="normal" fill="#1e1e1e" stroke="#1e1e1e" stroke-width="0.22" >WT</text>
<line x1="505.2" y1="103.3" x2="505.2" y2="105.6" stroke="#111" stroke-width="1.15"/>
<text x="505.2" y="115.3" font-size="6.3" text-anchor="middle" font-weight="normal" font-style="normal" fill="#1e1e1e" stroke="#1e1e1e" stroke-width="0.22" >KO</text>
<line x1="456.3" y1="119.8" x2="477.3" y2="119.8" stroke="#2a2a2a" stroke-width="1.15"/>
<line x1="485.2" y1="119.8" x2="506.4" y2="119.8" stroke="#2a2a2a" stroke-width="1.15"/>
<text x="466.9" y="129.2" font-size="6.3" text-anchor="middle" font-weight="normal" font-style="normal" fill="#1e1e1e" stroke="#1e1e1e" stroke-width="0.22" >1.5 h</text>
<text x="495.6" y="129.2" font-size="6.3" text-anchor="middle" font-weight="normal" font-style="normal" fill="#1e1e1e" stroke="#1e1e1e" stroke-width="0.22" >3 h</text>
<line x1="459.3" y1="77.5" x2="459.3" y2="83.75" stroke="#161616" stroke-width="1.2"/>
<line x1="456.6" y1="77.5" x2="462" y2="77.5" stroke="#161616" stroke-width="1.2"/>
<line x1="456.6" y1="83.75" x2="462" y2="83.75" stroke="#161616" stroke-width="1.2"/>
<line x1="454.3" y1="80.62" x2="464.3" y2="80.62" stroke="#161616" stroke-width="1.3"/>
<line x1="474.5" y1="80" x2="474.5" y2="88.12" stroke="#161616" stroke-width="1.2"/>
<line x1="471.8" y1="80" x2="477.2" y2="80" stroke="#161616" stroke-width="1.2"/>
<line x1="471.8" y1="88.12" x2="477.2" y2="88.12" stroke="#161616" stroke-width="1.2"/>
<line x1="469.5" y1="84.38" x2="479.5" y2="84.38" stroke="#161616" stroke-width="1.3"/>
<line x1="489.5" y1="91.88" x2="489.5" y2="96.88" stroke="#161616" stroke-width="1.2"/>
<line x1="486.8" y1="91.88" x2="492.2" y2="91.88" stroke="#161616" stroke-width="1.2"/>
<line x1="486.8" y1="96.88" x2="492.2" y2="96.88" stroke="#161616" stroke-width="1.2"/>
<line x1="484.5" y1="94.38" x2="494.5" y2="94.38" stroke="#161616" stroke-width="1.3"/>
<line x1="505.2" y1="88.75" x2="505.2" y2="93.12" stroke="#161616" stroke-width="1.2"/>
<line x1="502.5" y1="88.75" x2="507.9" y2="88.75" stroke="#161616" stroke-width="1.2"/>
<line x1="502.5" y1="93.12" x2="507.9" y2="93.12" stroke="#161616" stroke-width="1.2"/>
<line x1="500.2" y1="91" x2="510.2" y2="91" stroke="#161616" stroke-width="1.3"/>
<circle cx="459.25" cy="63.12" r="1.76" fill="#8e1030"/>
<circle cx="456.75" cy="66.5" r="1.76" fill="#8e1030"/>
<circle cx="462.12" cy="72.25" r="1.76" fill="#8e1030"/>
<circle cx="459.25" cy="78.12" r="1.76" fill="#8e1030"/>
<circle cx="456.75" cy="81.25" r="1.76" fill="#8e1030"/>
<circle cx="461.5" cy="79.75" r="1.76" fill="#8e1030"/>
<circle cx="459.25" cy="83.75" r="1.76" fill="#8e1030"/>
<circle cx="457.5" cy="85.25" r="1.76" fill="#8e1030"/>
<circle cx="462.12" cy="96.88" r="1.76" fill="#8e1030"/>
<circle cx="456.75" cy="101" r="1.76" fill="#8e1030"/>
<rect x="473.02" y="53.15" width="3.2" height="3.2" fill="none" stroke="#2e3f68" stroke-width="1.25"/>
<rect x="473.02" y="65.65" width="3.2" height="3.2" fill="none" stroke="#2e3f68" stroke-width="1.25"/>
<rect x="473.02" y="74.65" width="3.2" height="3.2" fill="none" stroke="#2e3f68" stroke-width="1.25"/>
<rect x="470.52" y="77.15" width="3.2" height="3.2" fill="none" stroke="#2e3f68" stroke-width="1.25"/>
<rect x="476.15" y="77.4" width="3.2" height="3.2" fill="none" stroke="#2e3f68" stroke-width="1.25"/>
<rect x="470.52" y="80.9" width="3.2" height="3.2" fill="none" stroke="#2e3f68" stroke-width="1.25"/>
<rect x="473.02" y="83.4" width="3.2" height="3.2" fill="none" stroke="#2e3f68" stroke-width="1.25"/>
<rect x="476.15" y="81.53" width="3.2" height="3.2" fill="none" stroke="#2e3f68" stroke-width="1.25"/>
<rect x="470.52" y="88.4" width="3.2" height="3.2" fill="none" stroke="#2e3f68" stroke-width="1.25"/>
<rect x="474.9" y="88.4" width="3.2" height="3.2" fill="none" stroke="#2e3f68" stroke-width="1.25"/>
<rect x="470.52" y="92.15" width="3.2" height="3.2" fill="none" stroke="#2e3f68" stroke-width="1.25"/>
<rect x="473.02" y="93.4" width="3.2" height="3.2" fill="none" stroke="#2e3f68" stroke-width="1.25"/>
<rect x="472.4" y="99.4" width="3.2" height="3.2" fill="none" stroke="#2e3f68" stroke-width="1.25"/>
<circle cx="487.5" cy="86.88" r="1.76" fill="#8e1030"/>
<circle cx="492.5" cy="86.5" r="1.76" fill="#8e1030"/>
<circle cx="487.12" cy="91.25" r="1.76" fill="#8e1030"/>
<circle cx="492.12" cy="91.25" r="1.76" fill="#8e1030"/>
<circle cx="489.62" cy="95" r="1.76" fill="#8e1030"/>
<circle cx="487.12" cy="98.12" r="1.76" fill="#8e1030"/>
<circle cx="492.12" cy="97.75" r="1.76" fill="#8e1030"/>
<circle cx="489" cy="101.25" r="1.76" fill="#8e1030"/>
<circle cx="486.5" cy="101.88" r="1.76" fill="#8e1030"/>
<rect x="503.65" y="79.65" width="3.2" height="3.2" fill="none" stroke="#2e3f68" stroke-width="1.25"/>
<rect x="501.15" y="85.65" width="3.2" height="3.2" fill="none" stroke="#2e3f68" stroke-width="1.25"/>
<rect x="506.15" y="85.9" width="3.2" height="3.2" fill="none" stroke="#2e3f68" stroke-width="1.25"/>
<rect x="501.15" y="89.03" width="3.2" height="3.2" fill="none" stroke="#2e3f68" stroke-width="1.25"/>
<rect x="506.15" y="89.03" width="3.2" height="3.2" fill="none" stroke="#2e3f68" stroke-width="1.25"/>
<rect x="503.65" y="92.15" width="3.2" height="3.2" fill="none" stroke="#2e3f68" stroke-width="1.25"/>
<rect x="501.15" y="94.03" width="3.2" height="3.2" fill="none" stroke="#2e3f68" stroke-width="1.25"/>
<rect x="506.15" y="93.4" width="3.2" height="3.2" fill="none" stroke="#2e3f68" stroke-width="1.25"/>
<rect x="503.02" y="96.53" width="3.2" height="3.2" fill="none" stroke="#2e3f68" stroke-width="1.25"/>
<text x="7.3" y="157.8" font-size="11.2" text-anchor="start" font-weight="bold" font-style="normal" fill="#000" stroke="#000" stroke-width="0.1" >B</text>
<circle cx="48.3" cy="161.6" r="1.6" fill="#8e1030"/>
<text x="52.8" y="163.8" font-size="6.3" text-anchor="start" font-weight="normal" font-style="normal" fill="#2a2a2a" stroke="#2a2a2a" stroke-width="0.08" >WT</text>
<rect x="69.4" y="159.95" width="3.3" height="3.3" fill="none" stroke="#2e3f68" stroke-width="1.2"/>
<text x="76.4" y="163.8" font-size="6.2" fill="#3a3a3a" stroke="#3a3a3a" stroke-width="0.12" font-style="italic">Trif<tspan font-size="4.4" dy="-2.3" fill="#777" stroke="none">-/-</tspan></text>
<text x="76.5" y="175.7" font-size="8.8" text-anchor="middle" font-weight="bold" font-style="italic" fill="#111" stroke="#111" stroke-width="0.15" >Ccl5</text>
<line x1="46.1" y1="181.1" x2="46.1" y2="245.3" stroke="#111" stroke-width="1.35"/>
<line x1="42.9" y1="245.3" x2="107.6" y2="245.3" stroke="#111" stroke-width="1.3"/>
<line x1="42.9" y1="245.3" x2="46.1" y2="245.3" stroke="#111" stroke-width="1.15"/>
<text x="39.6" y="247.3" font-size="6.5" text-anchor="end" font-weight="normal" font-style="normal" fill="#333" stroke="#333" stroke-width="0.08" >0</text>
<line x1="42.9" y1="230.05" x2="46.1" y2="230.05" stroke="#111" stroke-width="1.15"/>
<text x="39.6" y="232.05" font-size="6.5" text-anchor="end" font-weight="normal" font-style="normal" fill="#333" stroke="#333" stroke-width="0.08" >1</text>
<line x1="42.9" y1="214.8" x2="46.1" y2="214.8" stroke="#111" stroke-width="1.15"/>
<text x="39.6" y="216.8" font-size="6.5" text-anchor="end" font-weight="normal" font-style="normal" fill="#333" stroke="#333" stroke-width="0.08" >2</text>
<line x1="42.9" y1="199.55" x2="46.1" y2="199.55" stroke="#111" stroke-width="1.15"/>
<text x="39.6" y="201.55" font-size="6.5" text-anchor="end" font-weight="normal" font-style="normal" fill="#333" stroke="#333" stroke-width="0.08" >3</text>
<line x1="42.9" y1="184.3" x2="46.1" y2="184.3" stroke="#111" stroke-width="1.15"/>
<text x="39.6" y="186.3" font-size="6.5" text-anchor="end" font-weight="normal" font-style="normal" fill="#333" stroke="#333" stroke-width="0.08" >4</text>
<text transform="translate(28.89,213.3) rotate(-90)" font-size="7.2" text-anchor="middle" fill="#1a1a1a" stroke="#1a1a1a" stroke-width="0.4" textLength="65" lengthAdjust="spacingAndGlyphs">Relative gene expression</text>
<line x1="53.5" y1="245.3" x2="53.5" y2="247.6" stroke="#111" stroke-width="1.15"/>
<text x="53.5" y="257.3" font-size="6.3" text-anchor="middle" font-weight="normal" font-style="normal" fill="#1e1e1e" stroke="#1e1e1e" stroke-width="0.22" >WT</text>
<line x1="68.7" y1="245.3" x2="68.7" y2="247.6" stroke="#111" stroke-width="1.15"/>
<text x="68.7" y="257.3" font-size="6.3" text-anchor="middle" font-weight="normal" font-style="normal" fill="#1e1e1e" stroke="#1e1e1e" stroke-width="0.22" >KO</text>
<line x1="83.7" y1="245.3" x2="83.7" y2="247.6" stroke="#111" stroke-width="1.15"/>
<text x="83.7" y="257.3" font-size="6.3" text-anchor="middle" font-weight="normal" font-style="normal" fill="#1e1e1e" stroke="#1e1e1e" stroke-width="0.22" >WT</text>
<line x1="99.4" y1="245.3" x2="99.4" y2="247.6" stroke="#111" stroke-width="1.15"/>
<text x="99.4" y="257.3" font-size="6.3" text-anchor="middle" font-weight="normal" font-style="normal" fill="#1e1e1e" stroke="#1e1e1e" stroke-width="0.22" >KO</text>
<line x1="50.5" y1="261.8" x2="71.5" y2="261.8" stroke="#2a2a2a" stroke-width="1.15"/>
<line x1="80.9" y1="261.8" x2="102.1" y2="261.8" stroke="#2a2a2a" stroke-width="1.15"/>
<text x="61.1" y="271.2" font-size="6.3" text-anchor="middle" font-weight="normal" font-style="normal" fill="#1e1e1e" stroke="#1e1e1e" stroke-width="0.22" >1.5 h</text>
<text x="91.3" y="271.2" font-size="6.3" text-anchor="middle" font-weight="normal" font-style="normal" fill="#1e1e1e" stroke="#1e1e1e" stroke-width="0.22" >3 h</text>
<line x1="53.5" y1="222" x2="53.5" y2="230.75" stroke="#161616" stroke-width="1.2"/>
<line x1="50.8" y1="222" x2="56.2" y2="222" stroke="#161616" stroke-width="1.2"/>
<line x1="50.8" y1="230.75" x2="56.2" y2="230.75" stroke="#161616" stroke-width="1.2"/>
<line x1="48.5" y1="226.38" x2="58.5" y2="226.38" stroke="#161616" stroke-width="1.3"/>
<line x1="68.7" y1="236.38" x2="68.7" y2="240.12" stroke="#161616" stroke-width="1.2"/>
<line x1="66" y1="236.38" x2="71.4" y2="236.38" stroke="#161616" stroke-width="1.2"/>
<line x1="66" y1="240.12" x2="71.4" y2="240.12" stroke="#161616" stroke-width="1.2"/>
<line x1="63.7" y1="238.25" x2="73.7" y2="238.25" stroke="#161616" stroke-width="1.3"/>
<line x1="83.7" y1="218.25" x2="83.7" y2="228.88" stroke="#161616" stroke-width="1.2"/>
<line x1="81" y1="218.25" x2="86.4" y2="218.25" stroke="#161616" stroke-width="1.2"/>
<line x1="81" y1="228.88" x2="86.4" y2="228.88" stroke="#161616" stroke-width="1.2"/>
<line x1="78.7" y1="223.5" x2="88.7" y2="223.5" stroke="#161616" stroke-width="1.3"/>
<line x1="99.4" y1="241.75" x2="99.4" y2="243.5" stroke="#161616" stroke-width="1.2"/>
<line x1="96.7" y1="241.75" x2="102.1" y2="241.75" stroke="#161616" stroke-width="1.2"/>
<line x1="96.7" y1="243.5" x2="102.1" y2="243.5" stroke="#161616" stroke-width="1.2"/>
<line x1="94.4" y1="242.62" x2="104.4" y2="242.62" stroke="#161616" stroke-width="1.3"/>
<circle cx="53.62" cy="203.25" r="1.76" fill="#8e1030"/>
<circle cx="56.5" cy="218.5" r="1.76" fill="#8e1030"/>
<circle cx="51.5" cy="223.25" r="1.76" fill="#8e1030"/>
<circle cx="51.12" cy="226.38" r="1.76" fill="#8e1030"/>
<circle cx="53.62" cy="230.12" r="1.76" fill="#8e1030"/>
<circle cx="51.5" cy="229.5" r="1.76" fill="#8e1030"/>
<circle cx="56.12" cy="231.38" r="1.76" fill="#8e1030"/>
<circle cx="56.12" cy="239.5" r="1.76" fill="#8e1030"/>
<circle cx="51.12" cy="242.62" r="1.76" fill="#8e1030"/>
<rect x="65.15" y="231.65" width="3.2" height="3.2" fill="none" stroke="#2e3f68" stroke-width="1.25"/>
<rect x="70.15" y="231.65" width="3.2" height="3.2" fill="none" stroke="#2e3f68" stroke-width="1.25"/>
<rect x="64.53" y="235.4" width="3.2" height="3.2" fill="none" stroke="#2e3f68" stroke-width="1.25"/>
<rect x="69.53" y="235.4" width="3.2" height="3.2" fill="none" stroke="#2e3f68" stroke-width="1.25"/>
<rect x="66.4" y="237.9" width="3.2" height="3.2" fill="none" stroke="#2e3f68" stroke-width="1.25"/>
<rect x="64.53" y="240.4" width="3.2" height="3.2" fill="none" stroke="#2e3f68" stroke-width="1.25"/>
<rect x="69.53" y="240.4" width="3.2" height="3.2" fill="none" stroke="#2e3f68" stroke-width="1.25"/>
<rect x="67.03" y="241.65" width="3.2" height="3.2" fill="none" stroke="#2e3f68" stroke-width="1.25"/>
<circle cx="84.25" cy="200.5" r="1.76" fill="#8e1030"/>
<circle cx="84.25" cy="209.25" r="1.76" fill="#8e1030"/>
<circle cx="84.25" cy="218.88" r="1.76" fill="#8e1030"/>
<circle cx="82" cy="232.62" r="1.76" fill="#8e1030"/>
<circle cx="84.25" cy="236.75" r="1.76" fill="#8e1030"/>
<circle cx="86.75" cy="236.75" r="1.76" fill="#8e1030"/>
<circle cx="84.25" cy="227" r="1.76" fill="#8e1030"/>
<rect x="95.8" y="239.8" width="3.2" height="3.2" fill="none" stroke="#2e3f68" stroke-width="1.25"/>
<rect x="95.8" y="243.4" width="3.2" height="3.2" fill="none" stroke="#2e3f68" stroke-width="1.25"/>
<rect x="98.28" y="239.8" width="3.2" height="3.2" fill="none" stroke="#2e3f68" stroke-width="1.25"/>
<rect x="98.28" y="243.4" width="3.2" height="3.2" fill="none" stroke="#2e3f68" stroke-width="1.25"/>
<rect x="100.75" y="239.8" width="3.2" height="3.2" fill="none" stroke="#2e3f68" stroke-width="1.25"/>
<rect x="100.75" y="243.4" width="3.2" height="3.2" fill="none" stroke="#2e3f68" stroke-width="1.25"/>
<line x1="52" y1="190.88" x2="67.38" y2="190.88" stroke="#262626" stroke-width="1.25"/>
<circle cx="59.88" cy="186.38" r="1.15" fill="#1a1a1a"/>
<line x1="82" y1="190.88" x2="97.38" y2="190.88" stroke="#262626" stroke-width="1.25"/>
<circle cx="86.1" cy="186.38" r="1.15" fill="#1a1a1a"/>
<circle cx="89.5" cy="186.38" r="1.15" fill="#1a1a1a"/>
<circle cx="92.9" cy="186.38" r="1.15" fill="#1a1a1a"/>
<text x="178.2" y="175.7" font-size="8.8" text-anchor="middle" font-weight="bold" font-style="italic" fill="#111" stroke="#111" stroke-width="0.15" >Wnt5b</text>
<line x1="147.8" y1="181.1" x2="147.8" y2="245.3" stroke="#111" stroke-width="1.35"/>
<line x1="144.6" y1="245.3" x2="209.3" y2="245.3" stroke="#111" stroke-width="1.3"/>
<line x1="144.6" y1="245.3" x2="147.8" y2="245.3" stroke="#111" stroke-width="1.15"/>
<text x="141.3" y="247.3" font-size="6.5" text-anchor="end" font-weight="normal" font-style="normal" fill="#333" stroke="#333" stroke-width="0.08" >0.000</text>
<line x1="144.6" y1="230.05" x2="147.8" y2="230.05" stroke="#111" stroke-width="1.15"/>
<text x="141.3" y="232.05" font-size="6.5" text-anchor="end" font-weight="normal" font-style="normal" fill="#333" stroke="#333" stroke-width="0.08" >0.002</text>
<line x1="144.6" y1="214.8" x2="147.8" y2="214.8" stroke="#111" stroke-width="1.15"/>
<text x="141.3" y="216.8" font-size="6.5" text-anchor="end" font-weight="normal" font-style="normal" fill="#333" stroke="#333" stroke-width="0.08" >0.004</text>
<line x1="144.6" y1="199.55" x2="147.8" y2="199.55" stroke="#111" stroke-width="1.15"/>
<text x="141.3" y="201.55" font-size="6.5" text-anchor="end" font-weight="normal" font-style="normal" fill="#333" stroke="#333" stroke-width="0.08" >0.006</text>
<line x1="144.6" y1="184.3" x2="147.8" y2="184.3" stroke="#111" stroke-width="1.15"/>
<text x="141.3" y="186.3" font-size="6.5" text-anchor="end" font-weight="normal" font-style="normal" fill="#333" stroke="#333" stroke-width="0.08" >0.008</text>
<text transform="translate(117.94,213.3) rotate(-90)" font-size="7.2" text-anchor="middle" fill="#1a1a1a" stroke="#1a1a1a" stroke-width="0.4" textLength="65" lengthAdjust="spacingAndGlyphs">Relative gene expression</text>
<line x1="155.2" y1="245.3" x2="155.2" y2="247.6" stroke="#111" stroke-width="1.15"/>
<text x="155.2" y="257.3" font-size="6.3" text-anchor="middle" font-weight="normal" font-style="normal" fill="#1e1e1e" stroke="#1e1e1e" stroke-width="0.22" >WT</text>
<line x1="170.4" y1="245.3" x2="170.4" y2="247.6" stroke="#111" stroke-width="1.15"/>
<text x="170.4" y="257.3" font-size="6.3" text-anchor="middle" font-weight="normal" font-style="normal" fill="#1e1e1e" stroke="#1e1e1e" stroke-width="0.22" >KO</text>
<line x1="185.4" y1="245.3" x2="185.4" y2="247.6" stroke="#111" stroke-width="1.15"/>
<text x="185.4" y="257.3" font-size="6.3" text-anchor="middle" font-weight="normal" font-style="normal" fill="#1e1e1e" stroke="#1e1e1e" stroke-width="0.22" >WT</text>
<line x1="201.1" y1="245.3" x2="201.1" y2="247.6" stroke="#111" stroke-width="1.15"/>
<text x="201.1" y="257.3" font-size="6.3" text-anchor="middle" font-weight="normal" font-style="normal" fill="#1e1e1e" stroke="#1e1e1e" stroke-width="0.22" >KO</text>
<line x1="152.2" y1="261.8" x2="173.2" y2="261.8" stroke="#2a2a2a" stroke-width="1.15"/>
<line x1="182.6" y1="261.8" x2="203.8" y2="261.8" stroke="#2a2a2a" stroke-width="1.15"/>
<text x="162.8" y="271.2" font-size="6.3" text-anchor="middle" font-weight="normal" font-style="normal" fill="#1e1e1e" stroke="#1e1e1e" stroke-width="0.22" >1.5 h</text>
<text x="193" y="271.2" font-size="6.3" text-anchor="middle" font-weight="normal" font-style="normal" fill="#1e1e1e" stroke="#1e1e1e" stroke-width="0.22" >3 h</text>
<line x1="155.2" y1="221.75" x2="155.2" y2="232" stroke="#161616" stroke-width="1.2"/>
<line x1="152.5" y1="221.75" x2="157.9" y2="221.75" stroke="#161616" stroke-width="1.2"/>
<line x1="152.5" y1="232" x2="157.9" y2="232" stroke="#161616" stroke-width="1.2"/>
<line x1="150.2" y1="227" x2="160.2" y2="227" stroke="#161616" stroke-width="1.3"/>
<line x1="170.4" y1="239.5" x2="170.4" y2="242" stroke="#161616" stroke-width="1.2"/>
<line x1="167.7" y1="239.5" x2="173.1" y2="239.5" stroke="#161616" stroke-width="1.2"/>
<line x1="167.7" y1="242" x2="173.1" y2="242" stroke="#161616" stroke-width="1.2"/>
<line x1="165.4" y1="240.75" x2="175.4" y2="240.75" stroke="#161616" stroke-width="1.3"/>
<line x1="185.4" y1="232.62" x2="185.4" y2="240.75" stroke="#161616" stroke-width="1.2"/>
<line x1="182.7" y1="232.62" x2="188.1" y2="232.62" stroke="#161616" stroke-width="1.2"/>
<line x1="182.7" y1="240.75" x2="188.1" y2="240.75" stroke="#161616" stroke-width="1.2"/>
<line x1="180.4" y1="236.75" x2="190.4" y2="236.75" stroke="#161616" stroke-width="1.3"/>
<line x1="201.1" y1="241.75" x2="201.1" y2="243.5" stroke="#161616" stroke-width="1.2"/>
<line x1="198.4" y1="241.75" x2="203.8" y2="241.75" stroke="#161616" stroke-width="1.2"/>
<line x1="198.4" y1="243.5" x2="203.8" y2="243.5" stroke="#161616" stroke-width="1.2"/>
<line x1="196.1" y1="242.62" x2="206.1" y2="242.62" stroke="#161616" stroke-width="1.3"/>
<circle cx="155.25" cy="198" r="1.76" fill="#8e1030"/>
<circle cx="155.25" cy="217.62" r="1.76" fill="#8e1030"/>
<circle cx="152.75" cy="230.12" r="1.76" fill="#8e1030"/>
<circle cx="157.5" cy="232" r="1.76" fill="#8e1030"/>
<circle cx="152.75" cy="234.5" r="1.76" fill="#8e1030"/>
<circle cx="155.62" cy="234.5" r="1.76" fill="#8e1030"/>
<circle cx="154.75" cy="239.75" r="1.76" fill="#8e1030"/>
<circle cx="158.12" cy="239.75" r="1.76" fill="#8e1030"/>
<rect x="165.93" y="239.18" width="3.2" height="3.2" fill="none" stroke="#2e3f68" stroke-width="1.25"/>
<rect x="165.93" y="241.29" width="3.2" height="3.2" fill="none" stroke="#2e3f68" stroke-width="1.25"/>
<rect x="165.93" y="243.4" width="3.2" height="3.2" fill="none" stroke="#2e3f68" stroke-width="1.25"/>
<rect x="169.03" y="239.18" width="3.2" height="3.2" fill="none" stroke="#2e3f68" stroke-width="1.25"/>
<rect x="169.03" y="241.29" width="3.2" height="3.2" fill="none" stroke="#2e3f68" stroke-width="1.25"/>
<rect x="169.03" y="243.4" width="3.2" height="3.2" fill="none" stroke="#2e3f68" stroke-width="1.25"/>
<rect x="172.12" y="239.18" width="3.2" height="3.2" fill="none" stroke="#2e3f68" stroke-width="1.25"/>
<rect x="172.12" y="241.29" width="3.2" height="3.2" fill="none" stroke="#2e3f68" stroke-width="1.25"/>
<rect x="172.12" y="243.4" width="3.2" height="3.2" fill="none" stroke="#2e3f68" stroke-width="1.25"/>
<rect x="166.53" y="234.4" width="3.2" height="3.2" fill="none" stroke="#2e3f68" stroke-width="1.25"/>
<rect x="172.15" y="235.4" width="3.2" height="3.2" fill="none" stroke="#2e3f68" stroke-width="1.25"/>
<circle cx="183" cy="242.5" r="1.76" fill="#8e1030"/>
<circle cx="183" cy="245" r="1.76" fill="#8e1030"/>
<circle cx="184.96" cy="242.5" r="1.76" fill="#8e1030"/>
<circle cx="184.96" cy="245" r="1.76" fill="#8e1030"/>
<circle cx="186.92" cy="242.5" r="1.76" fill="#8e1030"/>
<circle cx="186.92" cy="245" r="1.76" fill="#8e1030"/>
<circle cx="188.88" cy="242.5" r="1.76" fill="#8e1030"/>
<circle cx="188.88" cy="245" r="1.76" fill="#8e1030"/>
<circle cx="186" cy="216" r="1.76" fill="#8e1030"/>
<circle cx="183.12" cy="230.12" r="1.76" fill="#8e1030"/>
<circle cx="188.12" cy="233.25" r="1.76" fill="#8e1030"/>
<circle cx="185.62" cy="235.12" r="1.76" fill="#8e1030"/>
<rect x="196.55" y="241.05" width="3.2" height="3.2" fill="none" stroke="#2e3f68" stroke-width="1.25"/>
<rect x="196.55" y="243.4" width="3.2" height="3.2" fill="none" stroke="#2e3f68" stroke-width="1.25"/>
<rect x="199.65" y="241.05" width="3.2" height="3.2" fill="none" stroke="#2e3f68" stroke-width="1.25"/>
<rect x="199.65" y="243.4" width="3.2" height="3.2" fill="none" stroke="#2e3f68" stroke-width="1.25"/>
<rect x="202.75" y="241.05" width="3.2" height="3.2" fill="none" stroke="#2e3f68" stroke-width="1.25"/>
<rect x="202.75" y="243.4" width="3.2" height="3.2" fill="none" stroke="#2e3f68" stroke-width="1.25"/>
<rect x="197.15" y="237.28" width="3.2" height="3.2" fill="none" stroke="#2e3f68" stroke-width="1.25"/>
<rect x="202.15" y="238.53" width="3.2" height="3.2" fill="none" stroke="#2e3f68" stroke-width="1.25"/>
<line x1="153.5" y1="190.88" x2="169" y2="190.88" stroke="#262626" stroke-width="1.25"/>
<circle cx="159.55" cy="186.38" r="1.15" fill="#1a1a1a"/>
<circle cx="162.95" cy="186.38" r="1.15" fill="#1a1a1a"/>
<text x="279.5" y="175.7" font-size="8.8" text-anchor="middle" font-weight="bold" font-style="italic" fill="#111" stroke="#111" stroke-width="0.15" >Wnt10a</text>
<line x1="249.1" y1="181.1" x2="249.1" y2="245.3" stroke="#111" stroke-width="1.35"/>
<line x1="245.9" y1="245.3" x2="310.6" y2="245.3" stroke="#111" stroke-width="1.3"/>
<line x1="245.9" y1="245.3" x2="249.1" y2="245.3" stroke="#111" stroke-width="1.15"/>
<text x="242.6" y="247.3" font-size="6.5" text-anchor="end" font-weight="normal" font-style="normal" fill="#333" stroke="#333" stroke-width="0.08" >0.00</text>
<line x1="245.9" y1="230.05" x2="249.1" y2="230.05" stroke="#111" stroke-width="1.15"/>
<text x="242.6" y="232.05" font-size="6.5" text-anchor="end" font-weight="normal" font-style="normal" fill="#333" stroke="#333" stroke-width="0.08" >0.01</text>
<line x1="245.9" y1="214.8" x2="249.1" y2="214.8" stroke="#111" stroke-width="1.15"/>
<text x="242.6" y="216.8" font-size="6.5" text-anchor="end" font-weight="normal" font-style="normal" fill="#333" stroke="#333" stroke-width="0.08" >0.02</text>
<line x1="245.9" y1="199.55" x2="249.1" y2="199.55" stroke="#111" stroke-width="1.15"/>
<text x="242.6" y="201.55" font-size="6.5" text-anchor="end" font-weight="normal" font-style="normal" fill="#333" stroke="#333" stroke-width="0.08" >0.03</text>
<line x1="245.9" y1="184.3" x2="249.1" y2="184.3" stroke="#111" stroke-width="1.15"/>
<text x="242.6" y="186.3" font-size="6.5" text-anchor="end" font-weight="normal" font-style="normal" fill="#333" stroke="#333" stroke-width="0.08" >0.04</text>
<text transform="translate(222.85,213.3) rotate(-90)" font-size="7.2" text-anchor="middle" fill="#1a1a1a" stroke="#1a1a1a" stroke-width="0.4" textLength="65" lengthAdjust="spacingAndGlyphs">Relative gene expression</text>
<line x1="256.5" y1="245.3" x2="256.5" y2="247.6" stroke="#111" stroke-width="1.15"/>
<text x="256.5" y="257.3" font-size="6.3" text-anchor="middle" font-weight="normal" font-style="normal" fill="#1e1e1e" stroke="#1e1e1e" stroke-width="0.22" >WT</text>
<line x1="271.7" y1="245.3" x2="271.7" y2="247.6" stroke="#111" stroke-width="1.15"/>
<text x="271.7" y="257.3" font-size="6.3" text-anchor="middle" font-weight="normal" font-style="normal" fill="#1e1e1e" stroke="#1e1e1e" stroke-width="0.22" >KO</text>
<line x1="286.7" y1="245.3" x2="286.7" y2="247.6" stroke="#111" stroke-width="1.15"/>
<text x="286.7" y="257.3" font-size="6.3" text-anchor="middle" font-weight="normal" font-style="normal" fill="#1e1e1e" stroke="#1e1e1e" stroke-width="0.22" >WT</text>
<line x1="302.4" y1="245.3" x2="302.4" y2="247.6" stroke="#111" stroke-width="1.15"/>
<text x="302.4" y="257.3" font-size="6.3" text-anchor="middle" font-weight="normal" font-style="normal" fill="#1e1e1e" stroke="#1e1e1e" stroke-width="0.22" >KO</text>
<line x1="253.5" y1="261.8" x2="274.5" y2="261.8" stroke="#2a2a2a" stroke-width="1.15"/>
<line x1="283.9" y1="261.8" x2="305.1" y2="261.8" stroke="#2a2a2a" stroke-width="1.15"/>
<text x="264.1" y="271.2" font-size="6.3" text-anchor="middle" font-weight="normal" font-style="normal" fill="#1e1e1e" stroke="#1e1e1e" stroke-width="0.22" >1.5 h</text>
<text x="294.3" y="271.2" font-size="6.3" text-anchor="middle" font-weight="normal" font-style="normal" fill="#1e1e1e" stroke="#1e1e1e" stroke-width="0.22" >3 h</text>
<line x1="256.5" y1="225.75" x2="256.5" y2="237" stroke="#161616" stroke-width="1.2"/>
<line x1="253.8" y1="225.75" x2="259.2" y2="225.75" stroke="#161616" stroke-width="1.2"/>
<line x1="253.8" y1="237" x2="259.2" y2="237" stroke="#161616" stroke-width="1.2"/>
<line x1="251.5" y1="231.38" x2="261.5" y2="231.38" stroke="#161616" stroke-width="1.3"/>
<line x1="271.7" y1="229.25" x2="271.7" y2="237.62" stroke="#161616" stroke-width="1.2"/>
<line x1="269" y1="229.25" x2="274.4" y2="229.25" stroke="#161616" stroke-width="1.2"/>
<line x1="269" y1="237.62" x2="274.4" y2="237.62" stroke="#161616" stroke-width="1.2"/>
<line x1="266.7" y1="234.5" x2="276.7" y2="234.5" stroke="#161616" stroke-width="1.3"/>
<line x1="286.7" y1="226.38" x2="286.7" y2="237" stroke="#161616" stroke-width="1.2"/>
<line x1="284" y1="226.38" x2="289.4" y2="226.38" stroke="#161616" stroke-width="1.2"/>
<line x1="284" y1="237" x2="289.4" y2="237" stroke="#161616" stroke-width="1.2"/>
<line x1="281.7" y1="232.25" x2="291.7" y2="232.25" stroke="#161616" stroke-width="1.3"/>
<line x1="302.4" y1="240.75" x2="302.4" y2="243.25" stroke="#161616" stroke-width="1.2"/>
<line x1="299.7" y1="240.75" x2="305.1" y2="240.75" stroke="#161616" stroke-width="1.2"/>
<line x1="299.7" y1="243.25" x2="305.1" y2="243.25" stroke="#161616" stroke-width="1.2"/>
<line x1="297.4" y1="242" x2="307.4" y2="242" stroke="#161616" stroke-width="1.3"/>
<circle cx="256.62" cy="203" r="1.76" fill="#8e1030"/>
<circle cx="256.62" cy="222.62" r="1.76" fill="#8e1030"/>
<circle cx="253.75" cy="232" r="1.76" fill="#8e1030"/>
<circle cx="254.5" cy="238.88" r="1.76" fill="#8e1030"/>
<circle cx="258.5" cy="237" r="1.76" fill="#8e1030"/>
<circle cx="256.62" cy="240.75" r="1.76" fill="#8e1030"/>
<circle cx="258.5" cy="240.75" r="1.76" fill="#8e1030"/>
<circle cx="256.62" cy="243.88" r="1.76" fill="#8e1030"/>
<rect x="266.92" y="237.3" width="3.2" height="3.2" fill="none" stroke="#2e3f68" stroke-width="1.25"/>
<rect x="266.92" y="240.35" width="3.2" height="3.2" fill="none" stroke="#2e3f68" stroke-width="1.25"/>
<rect x="266.92" y="243.4" width="3.2" height="3.2" fill="none" stroke="#2e3f68" stroke-width="1.25"/>
<rect x="269.12" y="237.3" width="3.2" height="3.2" fill="none" stroke="#2e3f68" stroke-width="1.25"/>
<rect x="269.12" y="240.35" width="3.2" height="3.2" fill="none" stroke="#2e3f68" stroke-width="1.25"/>
<rect x="269.12" y="243.4" width="3.2" height="3.2" fill="none" stroke="#2e3f68" stroke-width="1.25"/>
<rect x="271.31" y="237.3" width="3.2" height="3.2" fill="none" stroke="#2e3f68" stroke-width="1.25"/>
<rect x="271.31" y="240.35" width="3.2" height="3.2" fill="none" stroke="#2e3f68" stroke-width="1.25"/>
<rect x="271.31" y="243.4" width="3.2" height="3.2" fill="none" stroke="#2e3f68" stroke-width="1.25"/>
<rect x="273.5" y="237.3" width="3.2" height="3.2" fill="none" stroke="#2e3f68" stroke-width="1.25"/>
<rect x="273.5" y="240.35" width="3.2" height="3.2" fill="none" stroke="#2e3f68" stroke-width="1.25"/>
<rect x="273.5" y="243.4" width="3.2" height="3.2" fill="none" stroke="#2e3f68" stroke-width="1.25"/>
<rect x="270.4" y="201.4" width="3.2" height="3.2" fill="none" stroke="#2e3f68" stroke-width="1.25"/>
<rect x="270.02" y="227.9" width="3.2" height="3.2" fill="none" stroke="#2e3f68" stroke-width="1.25"/>
<circle cx="287.25" cy="211.62" r="1.76" fill="#8e1030"/>
<circle cx="287.25" cy="217.62" r="1.76" fill="#8e1030"/>
<circle cx="287.25" cy="226.38" r="1.76" fill="#8e1030"/>
<circle cx="289.75" cy="238.88" r="1.76" fill="#8e1030"/>
<circle cx="284.12" cy="240.75" r="1.76" fill="#8e1030"/>
<circle cx="287.25" cy="243.88" r="1.76" fill="#8e1030"/>
<circle cx="285.75" cy="242" r="1.76" fill="#8e1030"/>
<rect x="297.55" y="238.55" width="3.2" height="3.2" fill="none" stroke="#2e3f68" stroke-width="1.25"/>
<rect x="297.55" y="240.97" width="3.2" height="3.2" fill="none" stroke="#2e3f68" stroke-width="1.25"/>
<rect x="297.55" y="243.4" width="3.2" height="3.2" fill="none" stroke="#2e3f68" stroke-width="1.25"/>
<rect x="299.7" y="238.55" width="3.2" height="3.2" fill="none" stroke="#2e3f68" stroke-width="1.25"/>
<rect x="299.7" y="240.97" width="3.2" height="3.2" fill="none" stroke="#2e3f68" stroke-width="1.25"/>
<rect x="299.7" y="243.4" width="3.2" height="3.2" fill="none" stroke="#2e3f68" stroke-width="1.25"/>
<rect x="301.85" y="238.55" width="3.2" height="3.2" fill="none" stroke="#2e3f68" stroke-width="1.25"/>
<rect x="301.85" y="240.97" width="3.2" height="3.2" fill="none" stroke="#2e3f68" stroke-width="1.25"/>
<rect x="301.85" y="243.4" width="3.2" height="3.2" fill="none" stroke="#2e3f68" stroke-width="1.25"/>
<rect x="304" y="238.55" width="3.2" height="3.2" fill="none" stroke="#2e3f68" stroke-width="1.25"/>
<rect x="304" y="240.97" width="3.2" height="3.2" fill="none" stroke="#2e3f68" stroke-width="1.25"/>
<rect x="304" y="243.4" width="3.2" height="3.2" fill="none" stroke="#2e3f68" stroke-width="1.25"/>
<rect x="298.15" y="237.9" width="3.2" height="3.2" fill="none" stroke="#2e3f68" stroke-width="1.25"/>
<rect x="303.15" y="238.15" width="3.2" height="3.2" fill="none" stroke="#2e3f68" stroke-width="1.25"/>
<text x="380.9" y="175.7" font-size="8.8" text-anchor="middle" font-weight="bold" font-style="italic" fill="#111" stroke="#111" stroke-width="0.15" >Wnt10b</text>
<line x1="350.5" y1="181.1" x2="350.5" y2="245.3" stroke="#111" stroke-width="1.35"/>
<line x1="347.3" y1="245.3" x2="412" y2="245.3" stroke="#111" stroke-width="1.3"/>
<line x1="347.3" y1="245.3" x2="350.5" y2="245.3" stroke="#111" stroke-width="1.15"/>
<text x="344" y="247.3" font-size="6.5" text-anchor="end" font-weight="normal" font-style="normal" fill="#333" stroke="#333" stroke-width="0.08" >0.00</text>
<line x1="347.3" y1="230.05" x2="350.5" y2="230.05" stroke="#111" stroke-width="1.15"/>
<text x="344" y="232.05" font-size="6.5" text-anchor="end" font-weight="normal" font-style="normal" fill="#333" stroke="#333" stroke-width="0.08" >0.01</text>
<line x1="347.3" y1="214.8" x2="350.5" y2="214.8" stroke="#111" stroke-width="1.15"/>
<text x="344" y="216.8" font-size="6.5" text-anchor="end" font-weight="normal" font-style="normal" fill="#333" stroke="#333" stroke-width="0.08" >0.02</text>
<line x1="347.3" y1="199.55" x2="350.5" y2="199.55" stroke="#111" stroke-width="1.15"/>
<text x="344" y="201.55" font-size="6.5" text-anchor="end" font-weight="normal" font-style="normal" fill="#333" stroke="#333" stroke-width="0.08" >0.03</text>
<line x1="347.3" y1="184.3" x2="350.5" y2="184.3" stroke="#111" stroke-width="1.15"/>
<text x="344" y="186.3" font-size="6.5" text-anchor="end" font-weight="normal" font-style="normal" fill="#333" stroke="#333" stroke-width="0.08" >0.04</text>
<text transform="translate(324.25,213.3) rotate(-90)" font-size="7.2" text-anchor="middle" fill="#1a1a1a" stroke="#1a1a1a" stroke-width="0.4" textLength="65" lengthAdjust="spacingAndGlyphs">Relative gene expression</text>
<line x1="357.9" y1="245.3" x2="357.9" y2="247.6" stroke="#111" stroke-width="1.15"/>
<text x="357.9" y="257.3" font-size="6.3" text-anchor="middle" font-weight="normal" font-style="normal" fill="#1e1e1e" stroke="#1e1e1e" stroke-width="0.22" >WT</text>
<line x1="373.1" y1="245.3" x2="373.1" y2="247.6" stroke="#111" stroke-width="1.15"/>
<text x="373.1" y="257.3" font-size="6.3" text-anchor="middle" font-weight="normal" font-style="normal" fill="#1e1e1e" stroke="#1e1e1e" stroke-width="0.22" >KO</text>
<line x1="388.1" y1="245.3" x2="388.1" y2="247.6" stroke="#111" stroke-width="1.15"/>
<text x="388.1" y="257.3" font-size="6.3" text-anchor="middle" font-weight="normal" font-style="normal" fill="#1e1e1e" stroke="#1e1e1e" stroke-width="0.22" >WT</text>
<line x1="403.8" y1="245.3" x2="403.8" y2="247.6" stroke="#111" stroke-width="1.15"/>
<text x="403.8" y="257.3" font-size="6.3" text-anchor="middle" font-weight="normal" font-style="normal" fill="#1e1e1e" stroke="#1e1e1e" stroke-width="0.22" >KO</text>
<line x1="354.9" y1="261.8" x2="375.9" y2="261.8" stroke="#2a2a2a" stroke-width="1.15"/>
<line x1="385.3" y1="261.8" x2="406.5" y2="261.8" stroke="#2a2a2a" stroke-width="1.15"/>
<text x="365.5" y="271.2" font-size="6.3" text-anchor="middle" font-weight="normal" font-style="normal" fill="#1e1e1e" stroke="#1e1e1e" stroke-width="0.22" >1.5 h</text>
<text x="395.7" y="271.2" font-size="6.3" text-anchor="middle" font-weight="normal" font-style="normal" fill="#1e1e1e" stroke="#1e1e1e" stroke-width="0.22" >3 h</text>
<line x1="357.9" y1="224.5" x2="357.9" y2="229.5" stroke="#161616" stroke-width="1.2"/>
<line x1="355.2" y1="224.5" x2="360.6" y2="224.5" stroke="#161616" stroke-width="1.2"/>
<line x1="355.2" y1="229.5" x2="360.6" y2="229.5" stroke="#161616" stroke-width="1.2"/>
<line x1="352.9" y1="227" x2="362.9" y2="227" stroke="#161616" stroke-width="1.3"/>
<line x1="373.1" y1="226.38" x2="373.1" y2="237" stroke="#161616" stroke-width="1.2"/>
<line x1="370.4" y1="226.38" x2="375.8" y2="226.38" stroke="#161616" stroke-width="1.2"/>
<line x1="370.4" y1="237" x2="375.8" y2="237" stroke="#161616" stroke-width="1.2"/>
<line x1="368.1" y1="232" x2="378.1" y2="232" stroke="#161616" stroke-width="1.3"/>
<line x1="388.1" y1="220.75" x2="388.1" y2="234.25" stroke="#161616" stroke-width="1.2"/>
<line x1="385.4" y1="220.75" x2="390.8" y2="220.75" stroke="#161616" stroke-width="1.2"/>
<line x1="385.4" y1="234.25" x2="390.8" y2="234.25" stroke="#161616" stroke-width="1.2"/>
<line x1="383.1" y1="228" x2="393.1" y2="228" stroke="#161616" stroke-width="1.3"/>
<line x1="403.8" y1="238.88" x2="403.8" y2="241.38" stroke="#161616" stroke-width="1.2"/>
<line x1="401.1" y1="238.88" x2="406.5" y2="238.88" stroke="#161616" stroke-width="1.2"/>
<line x1="401.1" y1="241.38" x2="406.5" y2="241.38" stroke="#161616" stroke-width="1.2"/>
<line x1="398.8" y1="240.12" x2="408.8" y2="240.12" stroke="#161616" stroke-width="1.3"/>
<circle cx="355.75" cy="219.75" r="1.76" fill="#8e1030"/>
<circle cx="360.5" cy="220.12" r="1.76" fill="#8e1030"/>
<circle cx="358" cy="223.25" r="1.76" fill="#8e1030"/>
<circle cx="355.5" cy="225.75" r="1.76" fill="#8e1030"/>
<circle cx="360.5" cy="227" r="1.76" fill="#8e1030"/>
<circle cx="358" cy="228.88" r="1.76" fill="#8e1030"/>
<circle cx="356.5" cy="230.12" r="1.76" fill="#8e1030"/>
<circle cx="358.25" cy="238.5" r="1.76" fill="#8e1030"/>
<rect x="371.77" y="206.4" width="3.2" height="3.2" fill="none" stroke="#2e3f68" stroke-width="1.25"/>
<rect x="369.52" y="224.4" width="3.2" height="3.2" fill="none" stroke="#2e3f68" stroke-width="1.25"/>
<rect x="374.52" y="222.9" width="3.2" height="3.2" fill="none" stroke="#2e3f68" stroke-width="1.25"/>
<rect x="372.02" y="234.4" width="3.2" height="3.2" fill="none" stroke="#2e3f68" stroke-width="1.25"/>
<rect x="369.52" y="238.9" width="3.2" height="3.2" fill="none" stroke="#2e3f68" stroke-width="1.25"/>
<rect x="374.52" y="238.9" width="3.2" height="3.2" fill="none" stroke="#2e3f68" stroke-width="1.25"/>
<rect x="370.15" y="241.65" width="3.2" height="3.2" fill="none" stroke="#2e3f68" stroke-width="1.25"/>
<rect x="373.9" y="241.65" width="3.2" height="3.2" fill="none" stroke="#2e3f68" stroke-width="1.25"/>
<rect x="372.02" y="240.15" width="3.2" height="3.2" fill="none" stroke="#2e3f68" stroke-width="1.25"/>
<rect x="372.02" y="242.65" width="3.2" height="3.2" fill="none" stroke="#2e3f68" stroke-width="1.25"/>
<circle cx="388.62" cy="196" r="1.76" fill="#8e1030"/>
<circle cx="386.12" cy="217.25" r="1.76" fill="#8e1030"/>
<circle cx="391.12" cy="216.38" r="1.76" fill="#8e1030"/>
<circle cx="386.12" cy="238.88" r="1.76" fill="#8e1030"/>
<circle cx="391.12" cy="239.75" r="1.76" fill="#8e1030"/>
<circle cx="388.62" cy="240.75" r="1.76" fill="#8e1030"/>
<circle cx="388" cy="243.88" r="1.76" fill="#8e1030"/>
<rect x="399.55" y="236.05" width="3.2" height="3.2" fill="none" stroke="#2e3f68" stroke-width="1.25"/>
<rect x="399.55" y="238.21" width="3.2" height="3.2" fill="none" stroke="#2e3f68" stroke-width="1.25"/>
<rect x="399.55" y="240.38" width="3.2" height="3.2" fill="none" stroke="#2e3f68" stroke-width="1.25"/>
<rect x="402.65" y="236.05" width="3.2" height="3.2" fill="none" stroke="#2e3f68" stroke-width="1.25"/>
<rect x="402.65" y="238.21" width="3.2" height="3.2" fill="none" stroke="#2e3f68" stroke-width="1.25"/>
<rect x="402.65" y="240.38" width="3.2" height="3.2" fill="none" stroke="#2e3f68" stroke-width="1.25"/>
<rect x="405.75" y="236.05" width="3.2" height="3.2" fill="none" stroke="#2e3f68" stroke-width="1.25"/>
<rect x="405.75" y="238.21" width="3.2" height="3.2" fill="none" stroke="#2e3f68" stroke-width="1.25"/>
<rect x="405.75" y="240.38" width="3.2" height="3.2" fill="none" stroke="#2e3f68" stroke-width="1.25"/>
<rect x="399.9" y="230.65" width="3.2" height="3.2" fill="none" stroke="#2e3f68" stroke-width="1.25"/>
<rect x="405.15" y="234.4" width="3.2" height="3.2" fill="none" stroke="#2e3f68" stroke-width="1.25"/>
<text x="482.3" y="175.7" font-size="8.8" text-anchor="middle" font-weight="bold" font-style="italic" fill="#111" stroke="#111" stroke-width="0.15" >Wnt11</text>
<line x1="451.9" y1="181.5" x2="451.9" y2="198.4" stroke="#111" stroke-width="1.35"/>
<line x1="451.9" y1="203.2" x2="451.9" y2="245.3" stroke="#111" stroke-width="1.35"/>
<line x1="448.7" y1="198.4" x2="454.6" y2="198.4" stroke="#111" stroke-width="1.25"/>
<line x1="448.7" y1="203.2" x2="454.6" y2="203.2" stroke="#111" stroke-width="1.25"/>
<line x1="448.7" y1="245.3" x2="513.4" y2="245.3" stroke="#111" stroke-width="1.3"/>
<line x1="448.7" y1="245.3" x2="451.9" y2="245.3" stroke="#111" stroke-width="1.15"/>
<text x="445.4" y="247.3" font-size="6.5" text-anchor="end" font-weight="normal" font-style="normal" fill="#333" stroke="#333" stroke-width="0.08" >0.000</text>
<line x1="448.7" y1="232.13" x2="451.9" y2="232.13" stroke="#111" stroke-width="1.15"/>
<text x="445.4" y="234.13" font-size="6.5" text-anchor="end" font-weight="normal" font-style="normal" fill="#333" stroke="#333" stroke-width="0.08" >0.005</text>
<line x1="448.7" y1="218.96" x2="451.9" y2="218.96" stroke="#111" stroke-width="1.15"/>
<text x="445.4" y="220.96" font-size="6.5" text-anchor="end" font-weight="normal" font-style="normal" fill="#333" stroke="#333" stroke-width="0.08" >0.010</text>
<line x1="448.7" y1="205.79" x2="451.9" y2="205.79" stroke="#111" stroke-width="1.15"/>
<text x="445.4" y="207.79" font-size="6.5" text-anchor="end" font-weight="normal" font-style="normal" fill="#333" stroke="#333" stroke-width="0.08" >0.015</text>
<line x1="448.7" y1="194" x2="451.9" y2="194" stroke="#111" stroke-width="1.15"/>
<text x="445.4" y="196" font-size="6.5" text-anchor="end" font-weight="normal" font-style="normal" fill="#333" stroke="#333" stroke-width="0.08" >0.04</text>
<line x1="448.7" y1="184.3" x2="451.9" y2="184.3" stroke="#111" stroke-width="1.15"/>
<text x="445.4" y="186.3" font-size="6.5" text-anchor="end" font-weight="normal" font-style="normal" fill="#333" stroke="#333" stroke-width="0.08" >0.05</text>
<text transform="translate(422.04,213.3) rotate(-90)" font-size="7.2" text-anchor="middle" fill="#1a1a1a" stroke="#1a1a1a" stroke-width="0.4" textLength="65" lengthAdjust="spacingAndGlyphs">Relative gene expression</text>
<line x1="459.3" y1="245.3" x2="459.3" y2="247.6" stroke="#111" stroke-width="1.15"/>
<text x="459.3" y="257.3" font-size="6.3" text-anchor="middle" font-weight="normal" font-style="normal" fill="#1e1e1e" stroke="#1e1e1e" stroke-width="0.22" >WT</text>
<line x1="474.5" y1="245.3" x2="474.5" y2="247.6" stroke="#111" stroke-width="1.15"/>
<text x="474.5" y="257.3" font-size="6.3" text-anchor="middle" font-weight="normal" font-style="normal" fill="#1e1e1e" stroke="#1e1e1e" stroke-width="0.22" >KO</text>
<line x1="489.5" y1="245.3" x2="489.5" y2="247.6" stroke="#111" stroke-width="1.15"/>
<text x="489.5" y="257.3" font-size="6.3" text-anchor="middle" font-weight="normal" font-style="normal" fill="#1e1e1e" stroke="#1e1e1e" stroke-width="0.22" >WT</text>
<line x1="505.2" y1="245.3" x2="505.2" y2="247.6" stroke="#111" stroke-width="1.15"/>
<text x="505.2" y="257.3" font-size="6.3" text-anchor="middle" font-weight="normal" font-style="normal" fill="#1e1e1e" stroke="#1e1e1e" stroke-width="0.22" >KO</text>
<line x1="456.3" y1="261.8" x2="477.3" y2="261.8" stroke="#2a2a2a" stroke-width="1.15"/>
<line x1="486.7" y1="261.8" x2="507.9" y2="261.8" stroke="#2a2a2a" stroke-width="1.15"/>
<text x="466.9" y="271.2" font-size="6.3" text-anchor="middle" font-weight="normal" font-style="normal" fill="#1e1e1e" stroke="#1e1e1e" stroke-width="0.22" >1.5 h</text>
<text x="497.1" y="271.2" font-size="6.3" text-anchor="middle" font-weight="normal" font-style="normal" fill="#1e1e1e" stroke="#1e1e1e" stroke-width="0.22" >3 h</text>
<line x1="459.3" y1="205.75" x2="459.3" y2="232" stroke="#161616" stroke-width="1.2"/>
<line x1="456.6" y1="205.75" x2="462" y2="205.75" stroke="#161616" stroke-width="1.2"/>
<line x1="456.6" y1="232" x2="462" y2="232" stroke="#161616" stroke-width="1.2"/>
<line x1="454.3" y1="219.5" x2="464.3" y2="219.5" stroke="#161616" stroke-width="1.3"/>
<line x1="474.5" y1="234.75" x2="474.5" y2="241" stroke="#161616" stroke-width="1.2"/>
<line x1="471.8" y1="234.75" x2="477.2" y2="234.75" stroke="#161616" stroke-width="1.2"/>
<line x1="471.8" y1="241" x2="477.2" y2="241" stroke="#161616" stroke-width="1.2"/>
<line x1="469.5" y1="237.25" x2="479.5" y2="237.25" stroke="#161616" stroke-width="1.3"/>
<line x1="489.5" y1="233.88" x2="489.5" y2="239.5" stroke="#161616" stroke-width="1.2"/>
<line x1="486.8" y1="233.88" x2="492.2" y2="233.88" stroke="#161616" stroke-width="1.2"/>
<line x1="486.8" y1="239.5" x2="492.2" y2="239.5" stroke="#161616" stroke-width="1.2"/>
<line x1="484.5" y1="236.75" x2="494.5" y2="236.75" stroke="#161616" stroke-width="1.3"/>
<line x1="505.2" y1="241" x2="505.2" y2="243" stroke="#161616" stroke-width="1.2"/>
<line x1="502.5" y1="241" x2="507.9" y2="241" stroke="#161616" stroke-width="1.2"/>
<line x1="502.5" y1="243" x2="507.9" y2="243" stroke="#161616" stroke-width="1.2"/>
<line x1="500.2" y1="242" x2="510.2" y2="242" stroke="#161616" stroke-width="1.3"/>
<circle cx="459.25" cy="194.5" r="1.76" fill="#8e1030"/>
<circle cx="456.75" cy="220.12" r="1.76" fill="#8e1030"/>
<circle cx="461.5" cy="220.12" r="1.76" fill="#8e1030"/>
<circle cx="456.75" cy="232.62" r="1.76" fill="#8e1030"/>
<circle cx="464.62" cy="233.25" r="1.76" fill="#8e1030"/>
<circle cx="461.5" cy="237.62" r="1.76" fill="#8e1030"/>
<circle cx="456.75" cy="243" r="1.76" fill="#8e1030"/>
<rect x="473.02" y="221.03" width="3.2" height="3.2" fill="none" stroke="#2e3f68" stroke-width="1.25"/>
<rect x="473.02" y="227.9" width="3.2" height="3.2" fill="none" stroke="#2e3f68" stroke-width="1.25"/>
<rect x="472.9" y="235.9" width="3.2" height="3.2" fill="none" stroke="#2e3f68" stroke-width="1.25"/>
<rect x="468.9" y="238.9" width="3.2" height="3.2" fill="none" stroke="#2e3f68" stroke-width="1.25"/>
<rect x="476.4" y="237.9" width="3.2" height="3.2" fill="none" stroke="#2e3f68" stroke-width="1.25"/>
<rect x="470.4" y="242.4" width="3.2" height="3.2" fill="none" stroke="#2e3f68" stroke-width="1.25"/>
<rect x="475.4" y="242.9" width="3.2" height="3.2" fill="none" stroke="#2e3f68" stroke-width="1.25"/>
<rect x="472.9" y="240.4" width="3.2" height="3.2" fill="none" stroke="#2e3f68" stroke-width="1.25"/>
<circle cx="490" cy="222.62" r="1.76" fill="#8e1030"/>
<circle cx="487.12" cy="230.12" r="1.76" fill="#8e1030"/>
<circle cx="492.75" cy="232" r="1.76" fill="#8e1030"/>
<circle cx="490.25" cy="233.5" r="1.76" fill="#8e1030"/>
<circle cx="487.12" cy="240.75" r="1.76" fill="#8e1030"/>
<circle cx="492.12" cy="240.75" r="1.76" fill="#8e1030"/>
<circle cx="489.62" cy="243.25" r="1.76" fill="#8e1030"/>
<rect x="500.55" y="239.8" width="3.2" height="3.2" fill="none" stroke="#2e3f68" stroke-width="1.25"/>
<rect x="500.55" y="240.38" width="3.2" height="3.2" fill="none" stroke="#2e3f68" stroke-width="1.25"/>
<rect x="503.65" y="239.8" width="3.2" height="3.2" fill="none" stroke="#2e3f68" stroke-width="1.25"/>
<rect x="503.65" y="240.38" width="3.2" height="3.2" fill="none" stroke="#2e3f68" stroke-width="1.25"/>
<rect x="506.75" y="239.8" width="3.2" height="3.2" fill="none" stroke="#2e3f68" stroke-width="1.25"/>
<rect x="506.75" y="240.38" width="3.2" height="3.2" fill="none" stroke="#2e3f68" stroke-width="1.25"/>
<text x="7.3" y="300.5" font-size="11.2" text-anchor="start" font-weight="bold" font-style="normal" fill="#000" stroke="#000" stroke-width="0.1" >C</text>
<circle cx="48.3" cy="304.3" r="1.6" fill="#8e1030"/>
<text x="52.8" y="306.5" font-size="6.3" text-anchor="start" font-weight="normal" font-style="normal" fill="#2a2a2a" stroke="#2a2a2a" stroke-width="0.08" >WT</text>
<rect x="69.4" y="302.65" width="3.3" height="3.3" fill="none" stroke="#2e3f68" stroke-width="1.2"/>
<text x="76.4" y="306.5" font-size="6.2" fill="#3a3a3a" stroke="#3a3a3a" stroke-width="0.12" font-style="italic">Tnf<tspan font-size="4.4" dy="-2.3" fill="#777" stroke="none">-/-</tspan></text>
<text x="76.5" y="318.4" font-size="8.8" text-anchor="middle" font-weight="bold" font-style="italic" fill="#111" stroke="#111" stroke-width="0.15" >Tnf</text>
<line x1="46.1" y1="323.8" x2="46.1" y2="388" stroke="#111" stroke-width="1.35"/>
<line x1="42.9" y1="388" x2="107.6" y2="388" stroke="#111" stroke-width="1.3"/>
<line x1="42.9" y1="388" x2="46.1" y2="388" stroke="#111" stroke-width="1.15"/>
<text x="39.6" y="390" font-size="6.5" text-anchor="end" font-weight="normal" font-style="normal" fill="#333" stroke="#333" stroke-width="0.08" >0</text>
<line x1="42.9" y1="372.75" x2="46.1" y2="372.75" stroke="#111" stroke-width="1.15"/>
<text x="39.6" y="374.75" font-size="6.5" text-anchor="end" font-weight="normal" font-style="normal" fill="#333" stroke="#333" stroke-width="0.08" >1</text>
<line x1="42.9" y1="357.5" x2="46.1" y2="357.5" stroke="#111" stroke-width="1.15"/>
<text x="39.6" y="359.5" font-size="6.5" text-anchor="end" font-weight="normal" font-style="normal" fill="#333" stroke="#333" stroke-width="0.08" >2</text>
<line x1="42.9" y1="342.25" x2="46.1" y2="342.25" stroke="#111" stroke-width="1.15"/>
<text x="39.6" y="344.25" font-size="6.5" text-anchor="end" font-weight="normal" font-style="normal" fill="#333" stroke="#333" stroke-width="0.08" >3</text>
<line x1="42.9" y1="327" x2="46.1" y2="327" stroke="#111" stroke-width="1.15"/>
<text x="39.6" y="329" font-size="6.5" text-anchor="end" font-weight="normal" font-style="normal" fill="#333" stroke="#333" stroke-width="0.08" >4</text>
<text transform="translate(28.89,356) rotate(-90)" font-size="7.2" text-anchor="middle" fill="#1a1a1a" stroke="#1a1a1a" stroke-width="0.4" textLength="65" lengthAdjust="spacingAndGlyphs">Relative gene expression</text>
<line x1="53.5" y1="388" x2="53.5" y2="390.3" stroke="#111" stroke-width="1.15"/>
<text x="53.5" y="400" font-size="6.3" text-anchor="middle" font-weight="normal" font-style="normal" fill="#1e1e1e" stroke="#1e1e1e" stroke-width="0.22" >WT</text>
<line x1="68.7" y1="388" x2="68.7" y2="390.3" stroke="#111" stroke-width="1.15"/>
<text x="68.7" y="400" font-size="6.3" text-anchor="middle" font-weight="normal" font-style="normal" fill="#1e1e1e" stroke="#1e1e1e" stroke-width="0.22" >KO</text>
<line x1="83.7" y1="388" x2="83.7" y2="390.3" stroke="#111" stroke-width="1.15"/>
<text x="83.7" y="400" font-size="6.3" text-anchor="middle" font-weight="normal" font-style="normal" fill="#1e1e1e" stroke="#1e1e1e" stroke-width="0.22" >WT</text>
<line x1="99.4" y1="388" x2="99.4" y2="390.3" stroke="#111" stroke-width="1.15"/>
<text x="99.4" y="400" font-size="6.3" text-anchor="middle" font-weight="normal" font-style="normal" fill="#1e1e1e" stroke="#1e1e1e" stroke-width="0.22" >KO</text>
<line x1="50.5" y1="404.5" x2="71.5" y2="404.5" stroke="#2a2a2a" stroke-width="1.15"/>
<line x1="80.9" y1="404.5" x2="102.1" y2="404.5" stroke="#2a2a2a" stroke-width="1.15"/>
<text x="61.1" y="413.9" font-size="6.3" text-anchor="middle" font-weight="normal" font-style="normal" fill="#1e1e1e" stroke="#1e1e1e" stroke-width="0.22" >1.5 h</text>
<text x="91.3" y="413.9" font-size="6.3" text-anchor="middle" font-weight="normal" font-style="normal" fill="#1e1e1e" stroke="#1e1e1e" stroke-width="0.22" >3 h</text>
<line x1="53.5" y1="357.75" x2="53.5" y2="371.5" stroke="#161616" stroke-width="1.2"/>
<line x1="50.8" y1="357.75" x2="56.2" y2="357.75" stroke="#161616" stroke-width="1.2"/>
<line x1="50.8" y1="371.5" x2="56.2" y2="371.5" stroke="#161616" stroke-width="1.2"/>
<line x1="48.5" y1="364.75" x2="58.5" y2="364.75" stroke="#161616" stroke-width="1.3"/>
<line x1="68.7" y1="385.75" x2="68.7" y2="386.75" stroke="#161616" stroke-width="1.2"/>
<line x1="66" y1="385.75" x2="71.4" y2="385.75" stroke="#161616" stroke-width="1.2"/>
<line x1="66" y1="386.75" x2="71.4" y2="386.75" stroke="#161616" stroke-width="1.2"/>
<line x1="63.7" y1="386.25" x2="73.7" y2="386.25" stroke="#161616" stroke-width="1.3"/>
<line x1="83.7" y1="373.75" x2="83.7" y2="380" stroke="#161616" stroke-width="1.2"/>
<line x1="81" y1="373.75" x2="86.4" y2="373.75" stroke="#161616" stroke-width="1.2"/>
<line x1="81" y1="380" x2="86.4" y2="380" stroke="#161616" stroke-width="1.2"/>
<line x1="78.7" y1="376.88" x2="88.7" y2="376.88" stroke="#161616" stroke-width="1.3"/>
<line x1="99.4" y1="386.25" x2="99.4" y2="386.88" stroke="#161616" stroke-width="1.2"/>
<line x1="96.7" y1="386.25" x2="102.1" y2="386.25" stroke="#161616" stroke-width="1.2"/>
<line x1="96.7" y1="386.88" x2="102.1" y2="386.88" stroke="#161616" stroke-width="1.2"/>
<line x1="94.4" y1="386.5" x2="104.4" y2="386.5" stroke="#161616" stroke-width="1.3"/>
<circle cx="53.62" cy="347.25" r="1.76" fill="#8e1030"/>
<circle cx="53.62" cy="358.75" r="1.76" fill="#8e1030"/>
<circle cx="56.12" cy="374.38" r="1.76" fill="#8e1030"/>
<circle cx="51.12" cy="377.75" r="1.76" fill="#8e1030"/>
<rect x="64.55" y="385.05" width="3.2" height="3.2" fill="none" stroke="#2e3f68" stroke-width="1.25"/>
<rect x="64.55" y="386.1" width="3.2" height="3.2" fill="none" stroke="#2e3f68" stroke-width="1.25"/>
<rect x="67.34" y="385.05" width="3.2" height="3.2" fill="none" stroke="#2e3f68" stroke-width="1.25"/>
<rect x="67.34" y="386.1" width="3.2" height="3.2" fill="none" stroke="#2e3f68" stroke-width="1.25"/>
<rect x="70.12" y="385.05" width="3.2" height="3.2" fill="none" stroke="#2e3f68" stroke-width="1.25"/>
<rect x="70.12" y="386.1" width="3.2" height="3.2" fill="none" stroke="#2e3f68" stroke-width="1.25"/>
<circle cx="84.25" cy="368.5" r="1.76" fill="#8e1030"/>
<circle cx="81.75" cy="371.25" r="1.76" fill="#8e1030"/>
<circle cx="86.75" cy="375" r="1.76" fill="#8e1030"/>
<circle cx="86.5" cy="383.75" r="1.76" fill="#8e1030"/>
<circle cx="81.75" cy="386" r="1.76" fill="#8e1030"/>
<rect x="95.18" y="385.55" width="3.2" height="3.2" fill="none" stroke="#2e3f68" stroke-width="1.25"/>
<rect x="95.18" y="386.1" width="3.2" height="3.2" fill="none" stroke="#2e3f68" stroke-width="1.25"/>
<rect x="98.28" y="385.55" width="3.2" height="3.2" fill="none" stroke="#2e3f68" stroke-width="1.25"/>
<rect x="98.28" y="386.1" width="3.2" height="3.2" fill="none" stroke="#2e3f68" stroke-width="1.25"/>
<rect x="101.38" y="385.55" width="3.2" height="3.2" fill="none" stroke="#2e3f68" stroke-width="1.25"/>
<rect x="101.38" y="386.1" width="3.2" height="3.2" fill="none" stroke="#2e3f68" stroke-width="1.25"/>
<line x1="51.5" y1="333.88" x2="67.38" y2="333.88" stroke="#262626" stroke-width="1.25"/>
<circle cx="59.88" cy="328.75" r="1.15" fill="#1a1a1a"/>
<line x1="81.75" y1="333.88" x2="97.38" y2="333.88" stroke="#262626" stroke-width="1.25"/>
<circle cx="89.88" cy="328.75" r="1.15" fill="#1a1a1a"/>
<text x="178.2" y="318.4" font-size="8.8" text-anchor="middle" font-weight="bold" font-style="italic" fill="#111" stroke="#111" stroke-width="0.15" >Wnt5b</text>
<line x1="147.8" y1="323.8" x2="147.8" y2="388" stroke="#111" stroke-width="1.35"/>
<line x1="144.6" y1="388" x2="209.3" y2="388" stroke="#111" stroke-width="1.3"/>
<line x1="144.6" y1="388" x2="147.8" y2="388" stroke="#111" stroke-width="1.15"/>
<text x="141.3" y="390" font-size="6.5" text-anchor="end" font-weight="normal" font-style="normal" fill="#333" stroke="#333" stroke-width="0.08" >0.00</text>
<line x1="144.6" y1="372.75" x2="147.8" y2="372.75" stroke="#111" stroke-width="1.15"/>
<text x="141.3" y="374.75" font-size="6.5" text-anchor="end" font-weight="normal" font-style="normal" fill="#333" stroke="#333" stroke-width="0.08" >0.01</text>
<line x1="144.6" y1="357.5" x2="147.8" y2="357.5" stroke="#111" stroke-width="1.15"/>
<text x="141.3" y="359.5" font-size="6.5" text-anchor="end" font-weight="normal" font-style="normal" fill="#333" stroke="#333" stroke-width="0.08" >0.02</text>
<line x1="144.6" y1="342.25" x2="147.8" y2="342.25" stroke="#111" stroke-width="1.15"/>
<text x="141.3" y="344.25" font-size="6.5" text-anchor="end" font-weight="normal" font-style="normal" fill="#333" stroke="#333" stroke-width="0.08" >0.03</text>
<line x1="144.6" y1="327" x2="147.8" y2="327" stroke="#111" stroke-width="1.15"/>
<text x="141.3" y="329" font-size="6.5" text-anchor="end" font-weight="normal" font-style="normal" fill="#333" stroke="#333" stroke-width="0.08" >0.04</text>
<text transform="translate(121.55,356) rotate(-90)" font-size="7.2" text-anchor="middle" fill="#1a1a1a" stroke="#1a1a1a" stroke-width="0.4" textLength="65" lengthAdjust="spacingAndGlyphs">Relative gene expression</text>
<line x1="155.2" y1="388" x2="155.2" y2="390.3" stroke="#111" stroke-width="1.15"/>
<text x="155.2" y="400" font-size="6.3" text-anchor="middle" font-weight="normal" font-style="normal" fill="#1e1e1e" stroke="#1e1e1e" stroke-width="0.22" >WT</text>
<line x1="170.4" y1="388" x2="170.4" y2="390.3" stroke="#111" stroke-width="1.15"/>
<text x="170.4" y="400" font-size="6.3" text-anchor="middle" font-weight="normal" font-style="normal" fill="#1e1e1e" stroke="#1e1e1e" stroke-width="0.22" >KO</text>
<line x1="185.4" y1="388" x2="185.4" y2="390.3" stroke="#111" stroke-width="1.15"/>
<text x="185.4" y="400" font-size="6.3" text-anchor="middle" font-weight="normal" font-style="normal" fill="#1e1e1e" stroke="#1e1e1e" stroke-width="0.22" >WT</text>
<line x1="201.1" y1="388" x2="201.1" y2="390.3" stroke="#111" stroke-width="1.15"/>
<text x="201.1" y="400" font-size="6.3" text-anchor="middle" font-weight="normal" font-style="normal" fill="#1e1e1e" stroke="#1e1e1e" stroke-width="0.22" >KO</text>
<line x1="152.2" y1="404.5" x2="173.2" y2="404.5" stroke="#2a2a2a" stroke-width="1.15"/>
<line x1="182.6" y1="404.5" x2="203.8" y2="404.5" stroke="#2a2a2a" stroke-width="1.15"/>
<text x="162.8" y="413.9" font-size="6.3" text-anchor="middle" font-weight="normal" font-style="normal" fill="#1e1e1e" stroke="#1e1e1e" stroke-width="0.22" >1.5 h</text>
<text x="193" y="413.9" font-size="6.3" text-anchor="middle" font-weight="normal" font-style="normal" fill="#1e1e1e" stroke="#1e1e1e" stroke-width="0.22" >3 h</text>
<line x1="155.2" y1="355" x2="155.2" y2="366" stroke="#161616" stroke-width="1.2"/>
<line x1="152.5" y1="355" x2="157.9" y2="355" stroke="#161616" stroke-width="1.2"/>
<line x1="152.5" y1="366" x2="157.9" y2="366" stroke="#161616" stroke-width="1.2"/>
<line x1="150.2" y1="360.62" x2="160.2" y2="360.62" stroke="#161616" stroke-width="1.3"/>
<line x1="170.4" y1="355.38" x2="170.4" y2="375.62" stroke="#161616" stroke-width="1.2"/>
<line x1="167.7" y1="355.38" x2="173.1" y2="355.38" stroke="#161616" stroke-width="1.2"/>
<line x1="167.7" y1="375.62" x2="173.1" y2="375.62" stroke="#161616" stroke-width="1.2"/>
<line x1="165.4" y1="365.25" x2="175.4" y2="365.25" stroke="#161616" stroke-width="1.3"/>
<line x1="185.4" y1="374" x2="185.4" y2="381.88" stroke="#161616" stroke-width="1.2"/>
<line x1="182.7" y1="374" x2="188.1" y2="374" stroke="#161616" stroke-width="1.2"/>
<line x1="182.7" y1="381.88" x2="188.1" y2="381.88" stroke="#161616" stroke-width="1.2"/>
<line x1="180.4" y1="377.75" x2="190.4" y2="377.75" stroke="#161616" stroke-width="1.3"/>
<line x1="201.1" y1="380.62" x2="201.1" y2="387.5" stroke="#161616" stroke-width="1.2"/>
<line x1="198.4" y1="380.62" x2="203.8" y2="380.62" stroke="#161616" stroke-width="1.2"/>
<line x1="198.4" y1="387.5" x2="203.8" y2="387.5" stroke="#161616" stroke-width="1.2"/>
<line x1="196.1" y1="384.38" x2="206.1" y2="384.38" stroke="#161616" stroke-width="1.3"/>
<circle cx="155.25" cy="349.38" r="1.76" fill="#8e1030"/>
<circle cx="152.75" cy="355.62" r="1.76" fill="#8e1030"/>
<circle cx="155.62" cy="356.25" r="1.76" fill="#8e1030"/>
<circle cx="158.5" cy="361.25" r="1.76" fill="#8e1030"/>
<circle cx="155.25" cy="376" r="1.76" fill="#8e1030"/>
<rect x="169.03" y="343.65" width="3.2" height="3.2" fill="none" stroke="#2e3f68" stroke-width="1.25"/>
<rect x="171.53" y="371.15" width="3.2" height="3.2" fill="none" stroke="#2e3f68" stroke-width="1.25"/>
<rect x="166.53" y="376.52" width="3.2" height="3.2" fill="none" stroke="#2e3f68" stroke-width="1.25"/>
<circle cx="186" cy="362.5" r="1.76" fill="#8e1030"/>
<circle cx="185.62" cy="378.75" r="1.76" fill="#8e1030"/>
<circle cx="183.12" cy="381.88" r="1.76" fill="#8e1030"/>
<circle cx="188.12" cy="382.5" r="1.76" fill="#8e1030"/>
<circle cx="185.62" cy="384.38" r="1.76" fill="#8e1030"/>
<rect x="199.65" y="375.27" width="3.2" height="3.2" fill="none" stroke="#2e3f68" stroke-width="1.25"/>
<rect x="197.15" y="384.02" width="3.2" height="3.2" fill="none" stroke="#2e3f68" stroke-width="1.25"/>
<rect x="202.15" y="384.4" width="3.2" height="3.2" fill="none" stroke="#2e3f68" stroke-width="1.25"/>
<rect x="199.65" y="384.65" width="3.2" height="3.2" fill="none" stroke="#2e3f68" stroke-width="1.25"/>
<text x="279.5" y="318.4" font-size="8.8" text-anchor="middle" font-weight="bold" font-style="italic" fill="#111" stroke="#111" stroke-width="0.15" >Wnt10a</text>
<line x1="249.1" y1="323.8" x2="249.1" y2="388" stroke="#111" stroke-width="1.35"/>
<line x1="245.9" y1="388" x2="310.6" y2="388" stroke="#111" stroke-width="1.3"/>
<line x1="245.9" y1="388" x2="249.1" y2="388" stroke="#111" stroke-width="1.15"/>
<text x="242.6" y="390" font-size="6.5" text-anchor="end" font-weight="normal" font-style="normal" fill="#333" stroke="#333" stroke-width="0.08" >0.00</text>
<line x1="245.9" y1="367.67" x2="249.1" y2="367.67" stroke="#111" stroke-width="1.15"/>
<text x="242.6" y="369.67" font-size="6.5" text-anchor="end" font-weight="normal" font-style="normal" fill="#333" stroke="#333" stroke-width="0.08" >0.02</text>
<line x1="245.9" y1="347.33" x2="249.1" y2="347.33" stroke="#111" stroke-width="1.15"/>
<text x="242.6" y="349.33" font-size="6.5" text-anchor="end" font-weight="normal" font-style="normal" fill="#333" stroke="#333" stroke-width="0.08" >0.04</text>
<line x1="245.9" y1="327" x2="249.1" y2="327" stroke="#111" stroke-width="1.15"/>
<text x="242.6" y="329" font-size="6.5" text-anchor="end" font-weight="normal" font-style="normal" fill="#333" stroke="#333" stroke-width="0.08" >0.06</text>
<text transform="translate(222.85,356) rotate(-90)" font-size="7.2" text-anchor="middle" fill="#1a1a1a" stroke="#1a1a1a" stroke-width="0.4" textLength="65" lengthAdjust="spacingAndGlyphs">Relative gene expression</text>
<line x1="256.5" y1="388" x2="256.5" y2="390.3" stroke="#111" stroke-width="1.15"/>
<text x="256.5" y="400" font-size="6.3" text-anchor="middle" font-weight="normal" font-style="normal" fill="#1e1e1e" stroke="#1e1e1e" stroke-width="0.22" >WT</text>
<line x1="271.7" y1="388" x2="271.7" y2="390.3" stroke="#111" stroke-width="1.15"/>
<text x="271.7" y="400" font-size="6.3" text-anchor="middle" font-weight="normal" font-style="normal" fill="#1e1e1e" stroke="#1e1e1e" stroke-width="0.22" >KO</text>
<line x1="286.7" y1="388" x2="286.7" y2="390.3" stroke="#111" stroke-width="1.15"/>
<text x="286.7" y="400" font-size="6.3" text-anchor="middle" font-weight="normal" font-style="normal" fill="#1e1e1e" stroke="#1e1e1e" stroke-width="0.22" >WT</text>
<line x1="302.4" y1="388" x2="302.4" y2="390.3" stroke="#111" stroke-width="1.15"/>
<text x="302.4" y="400" font-size="6.3" text-anchor="middle" font-weight="normal" font-style="normal" fill="#1e1e1e" stroke="#1e1e1e" stroke-width="0.22" >KO</text>
<line x1="253.5" y1="404.5" x2="274.5" y2="404.5" stroke="#2a2a2a" stroke-width="1.15"/>
<line x1="283.9" y1="404.5" x2="305.1" y2="404.5" stroke="#2a2a2a" stroke-width="1.15"/>
<text x="264.1" y="413.9" font-size="6.3" text-anchor="middle" font-weight="normal" font-style="normal" fill="#1e1e1e" stroke="#1e1e1e" stroke-width="0.22" >1.5 h</text>
<text x="294.3" y="413.9" font-size="6.3" text-anchor="middle" font-weight="normal" font-style="normal" fill="#1e1e1e" stroke="#1e1e1e" stroke-width="0.22" >3 h</text>
<line x1="256.5" y1="356.88" x2="256.5" y2="366.88" stroke="#161616" stroke-width="1.2"/>
<line x1="253.8" y1="356.88" x2="259.2" y2="356.88" stroke="#161616" stroke-width="1.2"/>
<line x1="253.8" y1="366.88" x2="259.2" y2="366.88" stroke="#161616" stroke-width="1.2"/>
<line x1="251.5" y1="361.5" x2="261.5" y2="361.5" stroke="#161616" stroke-width="1.3"/>
<line x1="271.7" y1="375" x2="271.7" y2="383.12" stroke="#161616" stroke-width="1.2"/>
<line x1="269" y1="375" x2="274.4" y2="375" stroke="#161616" stroke-width="1.2"/>
<line x1="269" y1="383.12" x2="274.4" y2="383.12" stroke="#161616" stroke-width="1.2"/>
<line x1="266.7" y1="379" x2="276.7" y2="379" stroke="#161616" stroke-width="1.3"/>
<line x1="286.7" y1="362.25" x2="286.7" y2="375.62" stroke="#161616" stroke-width="1.2"/>
<line x1="284" y1="362.25" x2="289.4" y2="362.25" stroke="#161616" stroke-width="1.2"/>
<line x1="284" y1="375.62" x2="289.4" y2="375.62" stroke="#161616" stroke-width="1.2"/>
<line x1="281.7" y1="368.75" x2="291.7" y2="368.75" stroke="#161616" stroke-width="1.3"/>
<line x1="302.4" y1="348.12" x2="302.4" y2="387.5" stroke="#161616" stroke-width="1.2"/>
<line x1="299.7" y1="348.12" x2="305.1" y2="348.12" stroke="#161616" stroke-width="1.2"/>
<line x1="299.7" y1="387.5" x2="305.1" y2="387.5" stroke="#161616" stroke-width="1.2"/>
<line x1="297.4" y1="371.5" x2="307.4" y2="371.5" stroke="#161616" stroke-width="1.3"/>
<circle cx="257" cy="347.75" r="1.76" fill="#8e1030"/>
<circle cx="257" cy="357.75" r="1.76" fill="#8e1030"/>
<circle cx="254.12" cy="370.25" r="1.76" fill="#8e1030"/>
<circle cx="259.12" cy="370" r="1.76" fill="#8e1030"/>
<rect x="270.02" y="371.15" width="3.2" height="3.2" fill="none" stroke="#2e3f68" stroke-width="1.25"/>
<rect x="270.02" y="374.65" width="3.2" height="3.2" fill="none" stroke="#2e3f68" stroke-width="1.25"/>
<rect x="270.02" y="378.4" width="3.2" height="3.2" fill="none" stroke="#2e3f68" stroke-width="1.25"/>
<rect x="270.02" y="384.02" width="3.2" height="3.2" fill="none" stroke="#2e3f68" stroke-width="1.25"/>
<circle cx="284.5" cy="356.25" r="1.76" fill="#8e1030"/>
<circle cx="289.75" cy="353.5" r="1.76" fill="#8e1030"/>
<circle cx="287" cy="365" r="1.76" fill="#8e1030"/>
<circle cx="284.5" cy="385.25" r="1.76" fill="#8e1030"/>
<circle cx="289.75" cy="383.75" r="1.76" fill="#8e1030"/>
<rect x="300.9" y="334.9" width="3.2" height="3.2" fill="none" stroke="#2e3f68" stroke-width="1.25"/>
<rect x="300.9" y="376.52" width="3.2" height="3.2" fill="none" stroke="#2e3f68" stroke-width="1.25"/>
<rect x="303.77" y="382.15" width="3.2" height="3.2" fill="none" stroke="#2e3f68" stroke-width="1.25"/>
<rect x="298.15" y="384.65" width="3.2" height="3.2" fill="none" stroke="#2e3f68" stroke-width="1.25"/>
<line x1="254.12" y1="333.88" x2="269.75" y2="333.88" stroke="#262626" stroke-width="1.25"/>
<text x="262.25" y="331.62" font-size="6.6" text-anchor="middle" fill="#222" stroke="#222" stroke-width="0.25"><tspan font-style="italic">P</tspan>=0.06</text>
<text x="380.9" y="318.4" font-size="8.8" text-anchor="middle" font-weight="bold" font-style="italic" fill="#111" stroke="#111" stroke-width="0.15" >Wnt10b</text>
<line x1="350.5" y1="323.8" x2="350.5" y2="388" stroke="#111" stroke-width="1.35"/>
<line x1="347.3" y1="388" x2="412" y2="388" stroke="#111" stroke-width="1.3"/>
<line x1="347.3" y1="388" x2="350.5" y2="388" stroke="#111" stroke-width="1.15"/>
<text x="344" y="390" font-size="6.5" text-anchor="end" font-weight="normal" font-style="normal" fill="#333" stroke="#333" stroke-width="0.08" >0.00</text>
<line x1="347.3" y1="367.67" x2="350.5" y2="367.67" stroke="#111" stroke-width="1.15"/>
<text x="344" y="369.67" font-size="6.5" text-anchor="end" font-weight="normal" font-style="normal" fill="#333" stroke="#333" stroke-width="0.08" >0.05</text>
<line x1="347.3" y1="347.33" x2="350.5" y2="347.33" stroke="#111" stroke-width="1.15"/>
<text x="344" y="349.33" font-size="6.5" text-anchor="end" font-weight="normal" font-style="normal" fill="#333" stroke="#333" stroke-width="0.08" >0.10</text>
<line x1="347.3" y1="327" x2="350.5" y2="327" stroke="#111" stroke-width="1.15"/>
<text x="344" y="329" font-size="6.5" text-anchor="end" font-weight="normal" font-style="normal" fill="#333" stroke="#333" stroke-width="0.08" >0.15</text>
<text transform="translate(324.25,356) rotate(-90)" font-size="7.2" text-anchor="middle" fill="#1a1a1a" stroke="#1a1a1a" stroke-width="0.4" textLength="65" lengthAdjust="spacingAndGlyphs">Relative gene expression</text>
<line x1="357.9" y1="388" x2="357.9" y2="390.3" stroke="#111" stroke-width="1.15"/>
<text x="357.9" y="400" font-size="6.3" text-anchor="middle" font-weight="normal" font-style="normal" fill="#1e1e1e" stroke="#1e1e1e" stroke-width="0.22" >WT</text>
<line x1="373.1" y1="388" x2="373.1" y2="390.3" stroke="#111" stroke-width="1.15"/>
<text x="373.1" y="400" font-size="6.3" text-anchor="middle" font-weight="normal" font-style="normal" fill="#1e1e1e" stroke="#1e1e1e" stroke-width="0.22" >KO</text>
<line x1="388.1" y1="388" x2="388.1" y2="390.3" stroke="#111" stroke-width="1.15"/>
<text x="388.1" y="400" font-size="6.3" text-anchor="middle" font-weight="normal" font-style="normal" fill="#1e1e1e" stroke="#1e1e1e" stroke-width="0.22" >WT</text>
<line x1="403.8" y1="388" x2="403.8" y2="390.3" stroke="#111" stroke-width="1.15"/>
<text x="403.8" y="400" font-size="6.3" text-anchor="middle" font-weight="normal" font-style="normal" fill="#1e1e1e" stroke="#1e1e1e" stroke-width="0.22" >KO</text>
<line x1="354.9" y1="404.5" x2="375.9" y2="404.5" stroke="#2a2a2a" stroke-width="1.15"/>
<line x1="385.3" y1="404.5" x2="406.5" y2="404.5" stroke="#2a2a2a" stroke-width="1.15"/>
<text x="365.5" y="413.9" font-size="6.3" text-anchor="middle" font-weight="normal" font-style="normal" fill="#1e1e1e" stroke="#1e1e1e" stroke-width="0.22" >1.5 h</text>
<text x="395.7" y="413.9" font-size="6.3" text-anchor="middle" font-weight="normal" font-style="normal" fill="#1e1e1e" stroke="#1e1e1e" stroke-width="0.22" >3 h</text>
<line x1="357.9" y1="376.5" x2="357.9" y2="380.5" stroke="#161616" stroke-width="1.2"/>
<line x1="355.2" y1="376.5" x2="360.6" y2="376.5" stroke="#161616" stroke-width="1.2"/>
<line x1="355.2" y1="380.5" x2="360.6" y2="380.5" stroke="#161616" stroke-width="1.2"/>
<line x1="352.9" y1="378.5" x2="362.9" y2="378.5" stroke="#161616" stroke-width="1.3"/>
<line x1="373.1" y1="378.12" x2="373.1" y2="385.62" stroke="#161616" stroke-width="1.2"/>
<line x1="370.4" y1="378.12" x2="375.8" y2="378.12" stroke="#161616" stroke-width="1.2"/>
<line x1="370.4" y1="385.62" x2="375.8" y2="385.62" stroke="#161616" stroke-width="1.2"/>
<line x1="368.1" y1="380" x2="378.1" y2="380" stroke="#161616" stroke-width="1.3"/>
<line x1="388.1" y1="378.5" x2="388.1" y2="381.5" stroke="#161616" stroke-width="1.2"/>
<line x1="385.4" y1="378.5" x2="390.8" y2="378.5" stroke="#161616" stroke-width="1.2"/>
<line x1="385.4" y1="381.5" x2="390.8" y2="381.5" stroke="#161616" stroke-width="1.2"/>
<line x1="383.1" y1="380" x2="393.1" y2="380" stroke="#161616" stroke-width="1.3"/>
<line x1="403.8" y1="352.75" x2="403.8" y2="387.5" stroke="#161616" stroke-width="1.2"/>
<line x1="401.1" y1="352.75" x2="406.5" y2="352.75" stroke="#161616" stroke-width="1.2"/>
<line x1="401.1" y1="387.5" x2="406.5" y2="387.5" stroke="#161616" stroke-width="1.2"/>
<line x1="398.8" y1="371.88" x2="408.8" y2="371.88" stroke="#161616" stroke-width="1.3"/>
<circle cx="358.25" cy="375.62" r="1.76" fill="#8e1030"/>
<circle cx="355.75" cy="378.5" r="1.76" fill="#8e1030"/>
<circle cx="360.75" cy="378.5" r="1.76" fill="#8e1030"/>
<circle cx="358.25" cy="381.25" r="1.76" fill="#8e1030"/>
<circle cx="358.25" cy="378.5" r="1.76" fill="#8e1030"/>
<rect x="369.52" y="378.15" width="3.2" height="3.2" fill="none" stroke="#2e3f68" stroke-width="1.25"/>
<rect x="374.52" y="378.15" width="3.2" height="3.2" fill="none" stroke="#2e3f68" stroke-width="1.25"/>
<rect x="372.02" y="378.4" width="3.2" height="3.2" fill="none" stroke="#2e3f68" stroke-width="1.25"/>
<rect x="372.02" y="384.65" width="3.2" height="3.2" fill="none" stroke="#2e3f68" stroke-width="1.25"/>
<circle cx="386.12" cy="379" r="1.76" fill="#8e1030"/>
<circle cx="391.5" cy="379" r="1.76" fill="#8e1030"/>
<circle cx="388.62" cy="381.88" r="1.76" fill="#8e1030"/>
<circle cx="388.62" cy="383.12" r="1.76" fill="#8e1030"/>
<rect x="402.02" y="346.15" width="3.2" height="3.2" fill="none" stroke="#2e3f68" stroke-width="1.25"/>
<rect x="402.02" y="362.4" width="3.2" height="3.2" fill="none" stroke="#2e3f68" stroke-width="1.25"/>
<rect x="400.15" y="385.27" width="3.2" height="3.2" fill="none" stroke="#2e3f68" stroke-width="1.25"/>
<rect x="405.15" y="385.27" width="3.2" height="3.2" fill="none" stroke="#2e3f68" stroke-width="1.25"/>
<rect x="402.65" y="385.27" width="3.2" height="3.2" fill="none" stroke="#2e3f68" stroke-width="1.25"/>
<text x="482.3" y="318.4" font-size="8.8" text-anchor="middle" font-weight="bold" font-style="italic" fill="#111" stroke="#111" stroke-width="0.15" >Wnt11</text>
<line x1="451.9" y1="323.8" x2="451.9" y2="388" stroke="#111" stroke-width="1.35"/>
<line x1="448.7" y1="388" x2="513.4" y2="388" stroke="#111" stroke-width="1.3"/>
<line x1="448.7" y1="388" x2="451.9" y2="388" stroke="#111" stroke-width="1.15"/>
<text x="445.4" y="390" font-size="6.5" text-anchor="end" font-weight="normal" font-style="normal" fill="#333" stroke="#333" stroke-width="0.08" >0.00</text>
<line x1="448.7" y1="357.5" x2="451.9" y2="357.5" stroke="#111" stroke-width="1.15"/>
<text x="445.4" y="359.5" font-size="6.5" text-anchor="end" font-weight="normal" font-style="normal" fill="#333" stroke="#333" stroke-width="0.08" >0.05</text>
<line x1="448.7" y1="327" x2="451.9" y2="327" stroke="#111" stroke-width="1.15"/>
<text x="445.4" y="329" font-size="6.5" text-anchor="end" font-weight="normal" font-style="normal" fill="#333" stroke="#333" stroke-width="0.08" >0.10</text>
<text transform="translate(425.65,356) rotate(-90)" font-size="7.2" text-anchor="middle" fill="#1a1a1a" stroke="#1a1a1a" stroke-width="0.4" textLength="65" lengthAdjust="spacingAndGlyphs">Relative gene expression</text>
<line x1="459.3" y1="388" x2="459.3" y2="390.3" stroke="#111" stroke-width="1.15"/>
<text x="459.3" y="400" font-size="6.3" text-anchor="middle" font-weight="normal" font-style="normal" fill="#1e1e1e" stroke="#1e1e1e" stroke-width="0.22" >WT</text>
<line x1="474.5" y1="388" x2="474.5" y2="390.3" stroke="#111" stroke-width="1.15"/>
<text x="474.5" y="400" font-size="6.3" text-anchor="middle" font-weight="normal" font-style="normal" fill="#1e1e1e" stroke="#1e1e1e" stroke-width="0.22" >KO</text>
<line x1="489.5" y1="388" x2="489.5" y2="390.3" stroke="#111" stroke-width="1.15"/>
<text x="489.5" y="400" font-size="6.3" text-anchor="middle" font-weight="normal" font-style="normal" fill="#1e1e1e" stroke="#1e1e1e" stroke-width="0.22" >WT</text>
<line x1="505.2" y1="388" x2="505.2" y2="390.3" stroke="#111" stroke-width="1.15"/>
<text x="505.2" y="400" font-size="6.3" text-anchor="middle" font-weight="normal" font-style="normal" fill="#1e1e1e" stroke="#1e1e1e" stroke-width="0.22" >KO</text>
<line x1="456.3" y1="404.5" x2="477.3" y2="404.5" stroke="#2a2a2a" stroke-width="1.15"/>
<line x1="486.7" y1="404.5" x2="507.9" y2="404.5" stroke="#2a2a2a" stroke-width="1.15"/>
<text x="466.9" y="413.9" font-size="6.3" text-anchor="middle" font-weight="normal" font-style="normal" fill="#1e1e1e" stroke="#1e1e1e" stroke-width="0.22" >1.5 h</text>
<text x="497.1" y="413.9" font-size="6.3" text-anchor="middle" font-weight="normal" font-style="normal" fill="#1e1e1e" stroke="#1e1e1e" stroke-width="0.22" >3 h</text>
<line x1="459.3" y1="356" x2="459.3" y2="369" stroke="#161616" stroke-width="1.2"/>
<line x1="456.6" y1="356" x2="462" y2="356" stroke="#161616" stroke-width="1.2"/>
<line x1="456.6" y1="369" x2="462" y2="369" stroke="#161616" stroke-width="1.2"/>
<line x1="454.3" y1="362.25" x2="464.3" y2="362.25" stroke="#161616" stroke-width="1.3"/>
<line x1="474.5" y1="372.25" x2="474.5" y2="383.5" stroke="#161616" stroke-width="1.2"/>
<line x1="471.8" y1="372.25" x2="477.2" y2="372.25" stroke="#161616" stroke-width="1.2"/>
<line x1="471.8" y1="383.5" x2="477.2" y2="383.5" stroke="#161616" stroke-width="1.2"/>
<line x1="469.5" y1="378.5" x2="479.5" y2="378.5" stroke="#161616" stroke-width="1.3"/>
<line x1="489.5" y1="367.75" x2="489.5" y2="374.38" stroke="#161616" stroke-width="1.2"/>
<line x1="486.8" y1="367.75" x2="492.2" y2="367.75" stroke="#161616" stroke-width="1.2"/>
<line x1="486.8" y1="374.38" x2="492.2" y2="374.38" stroke="#161616" stroke-width="1.2"/>
<line x1="484.5" y1="371.25" x2="494.5" y2="371.25" stroke="#161616" stroke-width="1.3"/>
<line x1="505.2" y1="370.62" x2="505.2" y2="387.5" stroke="#161616" stroke-width="1.2"/>
<line x1="502.5" y1="370.62" x2="507.9" y2="370.62" stroke="#161616" stroke-width="1.2"/>
<line x1="502.5" y1="387.5" x2="507.9" y2="387.5" stroke="#161616" stroke-width="1.2"/>
<line x1="500.2" y1="379.75" x2="510.2" y2="379.75" stroke="#161616" stroke-width="1.3"/>
<circle cx="459.62" cy="346.25" r="1.76" fill="#8e1030"/>
<circle cx="456.75" cy="360.62" r="1.76" fill="#8e1030"/>
<circle cx="462.12" cy="364" r="1.76" fill="#8e1030"/>
<circle cx="459.62" cy="362.5" r="1.76" fill="#8e1030"/>
<circle cx="459.62" cy="379" r="1.76" fill="#8e1030"/>
<rect x="473.02" y="369.4" width="3.2" height="3.2" fill="none" stroke="#2e3f68" stroke-width="1.25"/>
<rect x="473.02" y="373.65" width="3.2" height="3.2" fill="none" stroke="#2e3f68" stroke-width="1.25"/>
<rect x="473.02" y="380.27" width="3.2" height="3.2" fill="none" stroke="#2e3f68" stroke-width="1.25"/>
<rect x="473.02" y="384.65" width="3.2" height="3.2" fill="none" stroke="#2e3f68" stroke-width="1.25"/>
<circle cx="487.12" cy="362.75" r="1.76" fill="#8e1030"/>
<circle cx="492.5" cy="362.25" r="1.76" fill="#8e1030"/>
<circle cx="489.62" cy="373.12" r="1.76" fill="#8e1030"/>
<circle cx="492.5" cy="377.5" r="1.76" fill="#8e1030"/>
<circle cx="487.12" cy="380" r="1.76" fill="#8e1030"/>
<rect x="503.9" y="364.65" width="3.2" height="3.2" fill="none" stroke="#2e3f68" stroke-width="1.25"/>
<rect x="503.9" y="375.9" width="3.2" height="3.2" fill="none" stroke="#2e3f68" stroke-width="1.25"/>
<rect x="501.15" y="384.65" width="3.2" height="3.2" fill="none" stroke="#2e3f68" stroke-width="1.25"/>
<rect x="506.15" y="384.65" width="3.2" height="3.2" fill="none" stroke="#2e3f68" stroke-width="1.25"/>
<text x="7.3" y="442.6" font-size="11.2" text-anchor="start" font-weight="bold" font-style="normal" fill="#000" stroke="#000" stroke-width="0.1" >D</text>
<circle cx="48.3" cy="446.4" r="1.6" fill="#8e1030"/>
<text x="52.8" y="448.6" font-size="6.3" text-anchor="start" font-weight="normal" font-style="normal" fill="#2a2a2a" stroke="#2a2a2a" stroke-width="0.08" >WT</text>
<rect x="69.4" y="444.75" width="3.3" height="3.3" fill="none" stroke="#2e3f68" stroke-width="1.2"/>
<text x="76.4" y="448.6" font-size="6.2" fill="#3a3a3a" stroke="#3a3a3a" stroke-width="0.12" font-style="italic">Il12b<tspan font-size="4.4" dy="-2.3" fill="#777" stroke="none">-/-</tspan></text>
<text x="76.5" y="460.5" font-size="8.8" text-anchor="middle" font-weight="bold" font-style="italic" fill="#111" stroke="#111" stroke-width="0.15" >Il12b</text>
<line x1="46.1" y1="465.9" x2="46.1" y2="530.1" stroke="#111" stroke-width="1.35"/>
<line x1="42.9" y1="530.1" x2="107.6" y2="530.1" stroke="#111" stroke-width="1.3"/>
<line x1="42.9" y1="530.1" x2="46.1" y2="530.1" stroke="#111" stroke-width="1.15"/>
<text x="39.6" y="532.1" font-size="6.5" text-anchor="end" font-weight="normal" font-style="normal" fill="#333" stroke="#333" stroke-width="0.08" >0.00</text>
<line x1="42.9" y1="514.85" x2="46.1" y2="514.85" stroke="#111" stroke-width="1.15"/>
<text x="39.6" y="516.85" font-size="6.5" text-anchor="end" font-weight="normal" font-style="normal" fill="#333" stroke="#333" stroke-width="0.08" >0.05</text>
<line x1="42.9" y1="499.6" x2="46.1" y2="499.6" stroke="#111" stroke-width="1.15"/>
<text x="39.6" y="501.6" font-size="6.5" text-anchor="end" font-weight="normal" font-style="normal" fill="#333" stroke="#333" stroke-width="0.08" >0.10</text>
<line x1="42.9" y1="484.35" x2="46.1" y2="484.35" stroke="#111" stroke-width="1.15"/>
<text x="39.6" y="486.35" font-size="6.5" text-anchor="end" font-weight="normal" font-style="normal" fill="#333" stroke="#333" stroke-width="0.08" >0.15</text>
<line x1="42.9" y1="469.1" x2="46.1" y2="469.1" stroke="#111" stroke-width="1.15"/>
<text x="39.6" y="471.1" font-size="6.5" text-anchor="end" font-weight="normal" font-style="normal" fill="#333" stroke="#333" stroke-width="0.08" >0.20</text>
<text transform="translate(19.85,498.1) rotate(-90)" font-size="7.2" text-anchor="middle" fill="#1a1a1a" stroke="#1a1a1a" stroke-width="0.4" textLength="65" lengthAdjust="spacingAndGlyphs">Relative gene expression</text>
<line x1="53.5" y1="530.1" x2="53.5" y2="532.4" stroke="#111" stroke-width="1.15"/>
<text x="53.5" y="542.1" font-size="6.3" text-anchor="middle" font-weight="normal" font-style="normal" fill="#1e1e1e" stroke="#1e1e1e" stroke-width="0.22" >WT</text>
<line x1="68.7" y1="530.1" x2="68.7" y2="532.4" stroke="#111" stroke-width="1.15"/>
<text x="68.7" y="542.1" font-size="6.3" text-anchor="middle" font-weight="normal" font-style="normal" fill="#1e1e1e" stroke="#1e1e1e" stroke-width="0.22" >KO</text>
<line x1="83.7" y1="530.1" x2="83.7" y2="532.4" stroke="#111" stroke-width="1.15"/>
<text x="83.7" y="542.1" font-size="6.3" text-anchor="middle" font-weight="normal" font-style="normal" fill="#1e1e1e" stroke="#1e1e1e" stroke-width="0.22" >WT</text>
<line x1="99.4" y1="530.1" x2="99.4" y2="532.4" stroke="#111" stroke-width="1.15"/>
<text x="99.4" y="542.1" font-size="6.3" text-anchor="middle" font-weight="normal" font-style="normal" fill="#1e1e1e" stroke="#1e1e1e" stroke-width="0.22" >KO</text>
<line x1="50.5" y1="546.6" x2="71.5" y2="546.6" stroke="#2a2a2a" stroke-width="1.15"/>
<line x1="80.9" y1="546.6" x2="102.1" y2="546.6" stroke="#2a2a2a" stroke-width="1.15"/>
<text x="61.1" y="556" font-size="6.3" text-anchor="middle" font-weight="normal" font-style="normal" fill="#1e1e1e" stroke="#1e1e1e" stroke-width="0.22" >1.5 h</text>
<text x="91.3" y="556" font-size="6.3" text-anchor="middle" font-weight="normal" font-style="normal" fill="#1e1e1e" stroke="#1e1e1e" stroke-width="0.22" >3 h</text>
<line x1="53.5" y1="495.5" x2="53.5" y2="510.12" stroke="#161616" stroke-width="1.2"/>
<line x1="50.8" y1="495.5" x2="56.2" y2="495.5" stroke="#161616" stroke-width="1.2"/>
<line x1="50.8" y1="510.12" x2="56.2" y2="510.12" stroke="#161616" stroke-width="1.2"/>
<line x1="48.5" y1="502.62" x2="58.5" y2="502.62" stroke="#161616" stroke-width="1.3"/>
<line x1="68.7" y1="528.25" x2="68.7" y2="529.25" stroke="#161616" stroke-width="1.2"/>
<line x1="66" y1="528.25" x2="71.4" y2="528.25" stroke="#161616" stroke-width="1.2"/>
<line x1="66" y1="529.25" x2="71.4" y2="529.25" stroke="#161616" stroke-width="1.2"/>
<line x1="63.7" y1="528.75" x2="73.7" y2="528.75" stroke="#161616" stroke-width="1.3"/>
<line x1="83.7" y1="523.88" x2="83.7" y2="525.75" stroke="#161616" stroke-width="1.2"/>
<line x1="81" y1="523.88" x2="86.4" y2="523.88" stroke="#161616" stroke-width="1.2"/>
<line x1="81" y1="525.75" x2="86.4" y2="525.75" stroke="#161616" stroke-width="1.2"/>
<line x1="78.7" y1="524.75" x2="88.7" y2="524.75" stroke="#161616" stroke-width="1.3"/>
<line x1="99.4" y1="528.62" x2="99.4" y2="529.38" stroke="#161616" stroke-width="1.2"/>
<line x1="96.7" y1="528.62" x2="102.1" y2="528.62" stroke="#161616" stroke-width="1.2"/>
<line x1="96.7" y1="529.38" x2="102.1" y2="529.38" stroke="#161616" stroke-width="1.2"/>
<line x1="94.4" y1="529" x2="104.4" y2="529" stroke="#161616" stroke-width="1.3"/>
<circle cx="53.62" cy="484.25" r="1.76" fill="#8e1030"/>
<circle cx="53.62" cy="491.75" r="1.76" fill="#8e1030"/>
<circle cx="53.62" cy="499.25" r="1.76" fill="#8e1030"/>
<circle cx="53.62" cy="513.5" r="1.76" fill="#8e1030"/>
<circle cx="53.62" cy="523.88" r="1.76" fill="#8e1030"/>
<rect x="64.55" y="527.55" width="3.2" height="3.2" fill="none" stroke="#2e3f68" stroke-width="1.25"/>
<rect x="64.55" y="528.2" width="3.2" height="3.2" fill="none" stroke="#2e3f68" stroke-width="1.25"/>
<rect x="67.34" y="527.55" width="3.2" height="3.2" fill="none" stroke="#2e3f68" stroke-width="1.25"/>
<rect x="67.34" y="528.2" width="3.2" height="3.2" fill="none" stroke="#2e3f68" stroke-width="1.25"/>
<rect x="70.12" y="527.55" width="3.2" height="3.2" fill="none" stroke="#2e3f68" stroke-width="1.25"/>
<rect x="70.12" y="528.2" width="3.2" height="3.2" fill="none" stroke="#2e3f68" stroke-width="1.25"/>
<circle cx="81.12" cy="524.25" r="1.76" fill="#8e1030"/>
<circle cx="84.25" cy="524.75" r="1.76" fill="#8e1030"/>
<circle cx="86.75" cy="524.5" r="1.76" fill="#8e1030"/>
<circle cx="83" cy="525.75" r="1.76" fill="#8e1030"/>
<rect x="95.18" y="527.92" width="3.2" height="3.2" fill="none" stroke="#2e3f68" stroke-width="1.25"/>
<rect x="95.18" y="528.2" width="3.2" height="3.2" fill="none" stroke="#2e3f68" stroke-width="1.25"/>
<rect x="98.28" y="527.92" width="3.2" height="3.2" fill="none" stroke="#2e3f68" stroke-width="1.25"/>
<rect x="98.28" y="528.2" width="3.2" height="3.2" fill="none" stroke="#2e3f68" stroke-width="1.25"/>
<rect x="101.38" y="527.92" width="3.2" height="3.2" fill="none" stroke="#2e3f68" stroke-width="1.25"/>
<rect x="101.38" y="528.2" width="3.2" height="3.2" fill="none" stroke="#2e3f68" stroke-width="1.25"/>
<line x1="51.5" y1="475.88" x2="67.75" y2="475.88" stroke="#262626" stroke-width="1.25"/>
<circle cx="58.17" cy="471" r="1.15" fill="#1a1a1a"/>
<circle cx="61.57" cy="471" r="1.15" fill="#1a1a1a"/>
<line x1="81.75" y1="475.88" x2="97.75" y2="475.88" stroke="#262626" stroke-width="1.25"/>
<circle cx="84.4" cy="471" r="1.15" fill="#1a1a1a"/>
<circle cx="87.8" cy="471" r="1.15" fill="#1a1a1a"/>
<circle cx="91.2" cy="471" r="1.15" fill="#1a1a1a"/>
<circle cx="94.6" cy="471" r="1.15" fill="#1a1a1a"/>
<text x="178.2" y="460.5" font-size="8.8" text-anchor="middle" font-weight="bold" font-style="italic" fill="#111" stroke="#111" stroke-width="0.15" >Wnt5b</text>
<line x1="147.8" y1="465.9" x2="147.8" y2="530.1" stroke="#111" stroke-width="1.35"/>
<line x1="144.6" y1="530.1" x2="209.3" y2="530.1" stroke="#111" stroke-width="1.3"/>
<line x1="144.6" y1="530.1" x2="147.8" y2="530.1" stroke="#111" stroke-width="1.15"/>
<text x="141.3" y="532.1" font-size="6.5" text-anchor="end" font-weight="normal" font-style="normal" fill="#333" stroke="#333" stroke-width="0.08" >0.000</text>
<line x1="144.6" y1="514.85" x2="147.8" y2="514.85" stroke="#111" stroke-width="1.15"/>
<text x="141.3" y="516.85" font-size="6.5" text-anchor="end" font-weight="normal" font-style="normal" fill="#333" stroke="#333" stroke-width="0.08" >0.002</text>
<line x1="144.6" y1="499.6" x2="147.8" y2="499.6" stroke="#111" stroke-width="1.15"/>
<text x="141.3" y="501.6" font-size="6.5" text-anchor="end" font-weight="normal" font-style="normal" fill="#333" stroke="#333" stroke-width="0.08" >0.004</text>
<line x1="144.6" y1="484.35" x2="147.8" y2="484.35" stroke="#111" stroke-width="1.15"/>
<text x="141.3" y="486.35" font-size="6.5" text-anchor="end" font-weight="normal" font-style="normal" fill="#333" stroke="#333" stroke-width="0.08" >0.006</text>
<line x1="144.6" y1="469.1" x2="147.8" y2="469.1" stroke="#111" stroke-width="1.15"/>
<text x="141.3" y="471.1" font-size="6.5" text-anchor="end" font-weight="normal" font-style="normal" fill="#333" stroke="#333" stroke-width="0.08" >0.008</text>
<text transform="translate(117.94,498.1) rotate(-90)" font-size="7.2" text-anchor="middle" fill="#1a1a1a" stroke="#1a1a1a" stroke-width="0.4" textLength="65" lengthAdjust="spacingAndGlyphs">Relative gene expression</text>
<line x1="155.2" y1="530.1" x2="155.2" y2="532.4" stroke="#111" stroke-width="1.15"/>
<text x="155.2" y="542.1" font-size="6.3" text-anchor="middle" font-weight="normal" font-style="normal" fill="#1e1e1e" stroke="#1e1e1e" stroke-width="0.22" >WT</text>
<line x1="170.4" y1="530.1" x2="170.4" y2="532.4" stroke="#111" stroke-width="1.15"/>
<text x="170.4" y="542.1" font-size="6.3" text-anchor="middle" font-weight="normal" font-style="normal" fill="#1e1e1e" stroke="#1e1e1e" stroke-width="0.22" >KO</text>
<line x1="185.4" y1="530.1" x2="185.4" y2="532.4" stroke="#111" stroke-width="1.15"/>
<text x="185.4" y="542.1" font-size="6.3" text-anchor="middle" font-weight="normal" font-style="normal" fill="#1e1e1e" stroke="#1e1e1e" stroke-width="0.22" >WT</text>
<line x1="201.1" y1="530.1" x2="201.1" y2="532.4" stroke="#111" stroke-width="1.15"/>
<text x="201.1" y="542.1" font-size="6.3" text-anchor="middle" font-weight="normal" font-style="normal" fill="#1e1e1e" stroke="#1e1e1e" stroke-width="0.22" >KO</text>
<line x1="152.2" y1="546.6" x2="173.2" y2="546.6" stroke="#2a2a2a" stroke-width="1.15"/>
<line x1="182.6" y1="546.6" x2="203.8" y2="546.6" stroke="#2a2a2a" stroke-width="1.15"/>
<text x="162.8" y="556" font-size="6.3" text-anchor="middle" font-weight="normal" font-style="normal" fill="#1e1e1e" stroke="#1e1e1e" stroke-width="0.22" >1.5 h</text>
<text x="193" y="556" font-size="6.3" text-anchor="middle" font-weight="normal" font-style="normal" fill="#1e1e1e" stroke="#1e1e1e" stroke-width="0.22" >3 h</text>
<line x1="155.2" y1="508.88" x2="155.2" y2="518.88" stroke="#161616" stroke-width="1.2"/>
<line x1="152.5" y1="508.88" x2="157.9" y2="508.88" stroke="#161616" stroke-width="1.2"/>
<line x1="152.5" y1="518.88" x2="157.9" y2="518.88" stroke="#161616" stroke-width="1.2"/>
<line x1="150.2" y1="513.88" x2="160.2" y2="513.88" stroke="#161616" stroke-width="1.3"/>
<line x1="170.4" y1="493.25" x2="170.4" y2="502.62" stroke="#161616" stroke-width="1.2"/>
<line x1="167.7" y1="493.25" x2="173.1" y2="493.25" stroke="#161616" stroke-width="1.2"/>
<line x1="167.7" y1="502.62" x2="173.1" y2="502.62" stroke="#161616" stroke-width="1.2"/>
<line x1="165.4" y1="497.25" x2="175.4" y2="497.25" stroke="#161616" stroke-width="1.3"/>
<line x1="185.4" y1="521.38" x2="185.4" y2="526.38" stroke="#161616" stroke-width="1.2"/>
<line x1="182.7" y1="521.38" x2="188.1" y2="521.38" stroke="#161616" stroke-width="1.2"/>
<line x1="182.7" y1="526.38" x2="188.1" y2="526.38" stroke="#161616" stroke-width="1.2"/>
<line x1="180.4" y1="523.88" x2="190.4" y2="523.88" stroke="#161616" stroke-width="1.3"/>
<line x1="201.1" y1="508.25" x2="201.1" y2="521" stroke="#161616" stroke-width="1.2"/>
<line x1="198.4" y1="508.25" x2="203.8" y2="508.25" stroke="#161616" stroke-width="1.2"/>
<line x1="198.4" y1="521" x2="203.8" y2="521" stroke="#161616" stroke-width="1.2"/>
<line x1="196.1" y1="514.5" x2="206.1" y2="514.5" stroke="#161616" stroke-width="1.3"/>
<circle cx="155.62" cy="499.75" r="1.76" fill="#8e1030"/>
<circle cx="157.75" cy="507.25" r="1.76" fill="#8e1030"/>
<circle cx="152.75" cy="510.75" r="1.76" fill="#8e1030"/>
<circle cx="155.25" cy="509.5" r="1.76" fill="#8e1030"/>
<circle cx="155.25" cy="522" r="1.76" fill="#8e1030"/>
<circle cx="155.25" cy="528.88" r="1.76" fill="#8e1030"/>
<rect x="169.03" y="482.27" width="3.2" height="3.2" fill="none" stroke="#2e3f68" stroke-width="1.25"/>
<rect x="172.15" y="491.02" width="3.2" height="3.2" fill="none" stroke="#2e3f68" stroke-width="1.25"/>
<rect x="166.53" y="493.9" width="3.2" height="3.2" fill="none" stroke="#2e3f68" stroke-width="1.25"/>
<rect x="169.03" y="502.65" width="3.2" height="3.2" fill="none" stroke="#2e3f68" stroke-width="1.25"/>
<rect x="169.03" y="508.9" width="3.2" height="3.2" fill="none" stroke="#2e3f68" stroke-width="1.25"/>
<circle cx="185.62" cy="517.62" r="1.76" fill="#8e1030"/>
<circle cx="183.5" cy="519.5" r="1.76" fill="#8e1030"/>
<circle cx="188.12" cy="522" r="1.76" fill="#8e1030"/>
<circle cx="185" cy="523" r="1.76" fill="#8e1030"/>
<circle cx="183.12" cy="528.88" r="1.76" fill="#8e1030"/>
<circle cx="188.12" cy="528.88" r="1.76" fill="#8e1030"/>
<rect x="199.65" y="503.9" width="3.2" height="3.2" fill="none" stroke="#2e3f68" stroke-width="1.25"/>
<rect x="197.15" y="506.02" width="3.2" height="3.2" fill="none" stroke="#2e3f68" stroke-width="1.25"/>
<rect x="202.4" y="510.15" width="3.2" height="3.2" fill="none" stroke="#2e3f68" stroke-width="1.25"/>
<rect x="202.4" y="520.4" width="3.2" height="3.2" fill="none" stroke="#2e3f68" stroke-width="1.25"/>
<rect x="197.15" y="522.65" width="3.2" height="3.2" fill="none" stroke="#2e3f68" stroke-width="1.25"/>
<line x1="153.12" y1="475.88" x2="168.75" y2="475.88" stroke="#262626" stroke-width="1.25"/>
<circle cx="161" cy="471" r="1.15" fill="#1a1a1a"/>
<line x1="183.12" y1="475.88" x2="198.75" y2="475.88" stroke="#262626" stroke-width="1.25"/>
<text x="191.25" y="473.62" font-size="6.6" text-anchor="middle" fill="#222" stroke="#222" stroke-width="0.25"><tspan font-style="italic">P</tspan>=0.06</text>
<text x="279.5" y="460.5" font-size="8.8" text-anchor="middle" font-weight="bold" font-style="italic" fill="#111" stroke="#111" stroke-width="0.15" >Wnt10a</text>
<line x1="249.1" y1="465.9" x2="249.1" y2="530.1" stroke="#111" stroke-width="1.35"/>
<line x1="245.9" y1="530.1" x2="310.6" y2="530.1" stroke="#111" stroke-width="1.3"/>
<line x1="245.9" y1="530.1" x2="249.1" y2="530.1" stroke="#111" stroke-width="1.15"/>
<text x="242.6" y="532.1" font-size="6.5" text-anchor="end" font-weight="normal" font-style="normal" fill="#333" stroke="#333" stroke-width="0.08" >0.00</text>
<line x1="245.9" y1="509.77" x2="249.1" y2="509.77" stroke="#111" stroke-width="1.15"/>
<text x="242.6" y="511.77" font-size="6.5" text-anchor="end" font-weight="normal" font-style="normal" fill="#333" stroke="#333" stroke-width="0.08" >0.02</text>
<line x1="245.9" y1="489.43" x2="249.1" y2="489.43" stroke="#111" stroke-width="1.15"/>
<text x="242.6" y="491.43" font-size="6.5" text-anchor="end" font-weight="normal" font-style="normal" fill="#333" stroke="#333" stroke-width="0.08" >0.04</text>
<line x1="245.9" y1="469.1" x2="249.1" y2="469.1" stroke="#111" stroke-width="1.15"/>
<text x="242.6" y="471.1" font-size="6.5" text-anchor="end" font-weight="normal" font-style="normal" fill="#333" stroke="#333" stroke-width="0.08" >0.06</text>
<text transform="translate(222.85,498.1) rotate(-90)" font-size="7.2" text-anchor="middle" fill="#1a1a1a" stroke="#1a1a1a" stroke-width="0.4" textLength="65" lengthAdjust="spacingAndGlyphs">Relative gene expression</text>
<line x1="256.5" y1="530.1" x2="256.5" y2="532.4" stroke="#111" stroke-width="1.15"/>
<text x="256.5" y="542.1" font-size="6.3" text-anchor="middle" font-weight="normal" font-style="normal" fill="#1e1e1e" stroke="#1e1e1e" stroke-width="0.22" >WT</text>
<line x1="271.7" y1="530.1" x2="271.7" y2="532.4" stroke="#111" stroke-width="1.15"/>
<text x="271.7" y="542.1" font-size="6.3" text-anchor="middle" font-weight="normal" font-style="normal" fill="#1e1e1e" stroke="#1e1e1e" stroke-width="0.22" >KO</text>
<line x1="286.7" y1="530.1" x2="286.7" y2="532.4" stroke="#111" stroke-width="1.15"/>
<text x="286.7" y="542.1" font-size="6.3" text-anchor="middle" font-weight="normal" font-style="normal" fill="#1e1e1e" stroke="#1e1e1e" stroke-width="0.22" >WT</text>
<line x1="302.4" y1="530.1" x2="302.4" y2="532.4" stroke="#111" stroke-width="1.15"/>
<text x="302.4" y="542.1" font-size="6.3" text-anchor="middle" font-weight="normal" font-style="normal" fill="#1e1e1e" stroke="#1e1e1e" stroke-width="0.22" >KO</text>
<line x1="253.5" y1="546.6" x2="274.5" y2="546.6" stroke="#2a2a2a" stroke-width="1.15"/>
<line x1="283.9" y1="546.6" x2="305.1" y2="546.6" stroke="#2a2a2a" stroke-width="1.15"/>
<text x="264.1" y="556" font-size="6.3" text-anchor="middle" font-weight="normal" font-style="normal" fill="#1e1e1e" stroke="#1e1e1e" stroke-width="0.22" >1.5 h</text>
<text x="294.3" y="556" font-size="6.3" text-anchor="middle" font-weight="normal" font-style="normal" fill="#1e1e1e" stroke="#1e1e1e" stroke-width="0.22" >3 h</text>
<line x1="256.5" y1="520.12" x2="256.5" y2="528.88" stroke="#161616" stroke-width="1.2"/>
<line x1="253.8" y1="520.12" x2="259.2" y2="520.12" stroke="#161616" stroke-width="1.2"/>
<line x1="253.8" y1="528.88" x2="259.2" y2="528.88" stroke="#161616" stroke-width="1.2"/>
<line x1="251.5" y1="524.5" x2="261.5" y2="524.5" stroke="#161616" stroke-width="1.3"/>
<line x1="271.7" y1="508.88" x2="271.7" y2="512.62" stroke="#161616" stroke-width="1.2"/>
<line x1="269" y1="508.88" x2="274.4" y2="508.88" stroke="#161616" stroke-width="1.2"/>
<line x1="269" y1="512.62" x2="274.4" y2="512.62" stroke="#161616" stroke-width="1.2"/>
<line x1="266.7" y1="510.75" x2="276.7" y2="510.75" stroke="#161616" stroke-width="1.3"/>
<line x1="286.7" y1="518.25" x2="286.7" y2="523.88" stroke="#161616" stroke-width="1.2"/>
<line x1="284" y1="518.25" x2="289.4" y2="518.25" stroke="#161616" stroke-width="1.2"/>
<line x1="284" y1="523.88" x2="289.4" y2="523.88" stroke="#161616" stroke-width="1.2"/>
<line x1="281.7" y1="522" x2="291.7" y2="522" stroke="#161616" stroke-width="1.3"/>
<line x1="302.4" y1="495.5" x2="302.4" y2="523.88" stroke="#161616" stroke-width="1.2"/>
<line x1="299.7" y1="495.5" x2="305.1" y2="495.5" stroke="#161616" stroke-width="1.2"/>
<line x1="299.7" y1="523.88" x2="305.1" y2="523.88" stroke="#161616" stroke-width="1.2"/>
<line x1="297.4" y1="510.12" x2="307.4" y2="510.12" stroke="#161616" stroke-width="1.3"/>
<circle cx="256.62" cy="509.25" r="1.76" fill="#8e1030"/>
<circle cx="254.12" cy="524.5" r="1.76" fill="#8e1030"/>
<circle cx="259.12" cy="524.5" r="1.76" fill="#8e1030"/>
<circle cx="256.62" cy="526.38" r="1.76" fill="#8e1030"/>
<circle cx="255.38" cy="528.25" r="1.76" fill="#8e1030"/>
<circle cx="257.88" cy="528.88" r="1.76" fill="#8e1030"/>
<rect x="267.52" y="505.15" width="3.2" height="3.2" fill="none" stroke="#2e3f68" stroke-width="1.25"/>
<rect x="273.15" y="506.02" width="3.2" height="3.2" fill="none" stroke="#2e3f68" stroke-width="1.25"/>
<rect x="270.02" y="508.52" width="3.2" height="3.2" fill="none" stroke="#2e3f68" stroke-width="1.25"/>
<rect x="272.52" y="509.15" width="3.2" height="3.2" fill="none" stroke="#2e3f68" stroke-width="1.25"/>
<rect x="271.27" y="511.65" width="3.2" height="3.2" fill="none" stroke="#2e3f68" stroke-width="1.25"/>
<rect x="269.4" y="510.4" width="3.2" height="3.2" fill="none" stroke="#2e3f68" stroke-width="1.25"/>
<rect x="270.4" y="518.9" width="3.2" height="3.2" fill="none" stroke="#2e3f68" stroke-width="1.25"/>
<circle cx="287.25" cy="511" r="1.76" fill="#8e1030"/>
<circle cx="284.12" cy="522" r="1.76" fill="#8e1030"/>
<circle cx="289.12" cy="521.38" r="1.76" fill="#8e1030"/>
<circle cx="286.62" cy="523.25" r="1.76" fill="#8e1030"/>
<circle cx="285.38" cy="523.88" r="1.76" fill="#8e1030"/>
<circle cx="290.38" cy="522.62" r="1.76" fill="#8e1030"/>
<rect x="300.9" y="483.9" width="3.2" height="3.2" fill="none" stroke="#2e3f68" stroke-width="1.25"/>
<rect x="298.15" y="508.52" width="3.2" height="3.2" fill="none" stroke="#2e3f68" stroke-width="1.25"/>
<rect x="305.9" y="512.27" width="3.2" height="3.2" fill="none" stroke="#2e3f68" stroke-width="1.25"/>
<rect x="303.77" y="515.65" width="3.2" height="3.2" fill="none" stroke="#2e3f68" stroke-width="1.25"/>
<rect x="298.15" y="520.65" width="3.2" height="3.2" fill="none" stroke="#2e3f68" stroke-width="1.25"/>
<line x1="254.75" y1="475.88" x2="270.38" y2="475.88" stroke="#262626" stroke-width="1.25"/>
<circle cx="262.88" cy="471" r="1.15" fill="#1a1a1a"/>
<text x="380.9" y="460.5" font-size="8.8" text-anchor="middle" font-weight="bold" font-style="italic" fill="#111" stroke="#111" stroke-width="0.15" >Wnt10b</text>
<line x1="350.5" y1="465.9" x2="350.5" y2="530.1" stroke="#111" stroke-width="1.35"/>
<line x1="347.3" y1="530.1" x2="412" y2="530.1" stroke="#111" stroke-width="1.3"/>
<line x1="347.3" y1="530.1" x2="350.5" y2="530.1" stroke="#111" stroke-width="1.15"/>
<text x="344" y="532.1" font-size="6.5" text-anchor="end" font-weight="normal" font-style="normal" fill="#333" stroke="#333" stroke-width="0.08" >0.00</text>
<line x1="347.3" y1="514.85" x2="350.5" y2="514.85" stroke="#111" stroke-width="1.15"/>
<text x="344" y="516.85" font-size="6.5" text-anchor="end" font-weight="normal" font-style="normal" fill="#333" stroke="#333" stroke-width="0.08" >0.02</text>
<line x1="347.3" y1="499.6" x2="350.5" y2="499.6" stroke="#111" stroke-width="1.15"/>
<text x="344" y="501.6" font-size="6.5" text-anchor="end" font-weight="normal" font-style="normal" fill="#333" stroke="#333" stroke-width="0.08" >0.04</text>
<line x1="347.3" y1="484.35" x2="350.5" y2="484.35" stroke="#111" stroke-width="1.15"/>
<text x="344" y="486.35" font-size="6.5" text-anchor="end" font-weight="normal" font-style="normal" fill="#333" stroke="#333" stroke-width="0.08" >0.06</text>
<line x1="347.3" y1="469.1" x2="350.5" y2="469.1" stroke="#111" stroke-width="1.15"/>
<text x="344" y="471.1" font-size="6.5" text-anchor="end" font-weight="normal" font-style="normal" fill="#333" stroke="#333" stroke-width="0.08" >0.08</text>
<text transform="translate(324.25,498.1) rotate(-90)" font-size="7.2" text-anchor="middle" fill="#1a1a1a" stroke="#1a1a1a" stroke-width="0.4" textLength="65" lengthAdjust="spacingAndGlyphs">Relative gene expression</text>
<line x1="357.9" y1="530.1" x2="357.9" y2="532.4" stroke="#111" stroke-width="1.15"/>
<text x="357.9" y="542.1" font-size="6.3" text-anchor="middle" font-weight="normal" font-style="normal" fill="#1e1e1e" stroke="#1e1e1e" stroke-width="0.22" >WT</text>
<line x1="373.1" y1="530.1" x2="373.1" y2="532.4" stroke="#111" stroke-width="1.15"/>
<text x="373.1" y="542.1" font-size="6.3" text-anchor="middle" font-weight="normal" font-style="normal" fill="#1e1e1e" stroke="#1e1e1e" stroke-width="0.22" >KO</text>
<line x1="388.1" y1="530.1" x2="388.1" y2="532.4" stroke="#111" stroke-width="1.15"/>
<text x="388.1" y="542.1" font-size="6.3" text-anchor="middle" font-weight="normal" font-style="normal" fill="#1e1e1e" stroke="#1e1e1e" stroke-width="0.22" >WT</text>
<line x1="403.8" y1="530.1" x2="403.8" y2="532.4" stroke="#111" stroke-width="1.15"/>
<text x="403.8" y="542.1" font-size="6.3" text-anchor="middle" font-weight="normal" font-style="normal" fill="#1e1e1e" stroke="#1e1e1e" stroke-width="0.22" >KO</text>
<line x1="354.9" y1="546.6" x2="375.9" y2="546.6" stroke="#2a2a2a" stroke-width="1.15"/>
<line x1="385.3" y1="546.6" x2="406.5" y2="546.6" stroke="#2a2a2a" stroke-width="1.15"/>
<text x="365.5" y="556" font-size="6.3" text-anchor="middle" font-weight="normal" font-style="normal" fill="#1e1e1e" stroke="#1e1e1e" stroke-width="0.22" >1.5 h</text>
<text x="395.7" y="556" font-size="6.3" text-anchor="middle" font-weight="normal" font-style="normal" fill="#1e1e1e" stroke="#1e1e1e" stroke-width="0.22" >3 h</text>
<line x1="357.9" y1="515.5" x2="357.9" y2="524.5" stroke="#161616" stroke-width="1.2"/>
<line x1="355.2" y1="515.5" x2="360.6" y2="515.5" stroke="#161616" stroke-width="1.2"/>
<line x1="355.2" y1="524.5" x2="360.6" y2="524.5" stroke="#161616" stroke-width="1.2"/>
<line x1="352.9" y1="519.88" x2="362.9" y2="519.88" stroke="#161616" stroke-width="1.3"/>
<line x1="373.1" y1="498.5" x2="373.1" y2="517.62" stroke="#161616" stroke-width="1.2"/>
<line x1="370.4" y1="498.5" x2="375.8" y2="498.5" stroke="#161616" stroke-width="1.2"/>
<line x1="370.4" y1="517.62" x2="375.8" y2="517.62" stroke="#161616" stroke-width="1.2"/>
<line x1="368.1" y1="508" x2="378.1" y2="508" stroke="#161616" stroke-width="1.3"/>
<line x1="388.1" y1="522" x2="388.1" y2="525.75" stroke="#161616" stroke-width="1.2"/>
<line x1="385.4" y1="522" x2="390.8" y2="522" stroke="#161616" stroke-width="1.2"/>
<line x1="385.4" y1="525.75" x2="390.8" y2="525.75" stroke="#161616" stroke-width="1.2"/>
<line x1="383.1" y1="523.88" x2="393.1" y2="523.88" stroke="#161616" stroke-width="1.3"/>
<line x1="403.8" y1="501.75" x2="403.8" y2="522" stroke="#161616" stroke-width="1.2"/>
<line x1="401.1" y1="501.75" x2="406.5" y2="501.75" stroke="#161616" stroke-width="1.2"/>
<line x1="401.1" y1="522" x2="406.5" y2="522" stroke="#161616" stroke-width="1.2"/>
<line x1="398.8" y1="511.75" x2="408.8" y2="511.75" stroke="#161616" stroke-width="1.3"/>
<circle cx="358.25" cy="507.25" r="1.76" fill="#8e1030"/>
<circle cx="355.75" cy="515.12" r="1.76" fill="#8e1030"/>
<circle cx="361.12" cy="518.88" r="1.76" fill="#8e1030"/>
<circle cx="355.75" cy="529.5" r="1.76" fill="#8e1030"/>
<circle cx="360.75" cy="529.5" r="1.76" fill="#8e1030"/>
<rect x="372.02" y="482.9" width="3.2" height="3.2" fill="none" stroke="#2e3f68" stroke-width="1.25"/>
<rect x="372.02" y="491.02" width="3.2" height="3.2" fill="none" stroke="#2e3f68" stroke-width="1.25"/>
<rect x="372.02" y="501.02" width="3.2" height="3.2" fill="none" stroke="#2e3f68" stroke-width="1.25"/>
<rect x="369.52" y="527.9" width="3.2" height="3.2" fill="none" stroke="#2e3f68" stroke-width="1.25"/>
<rect x="374.52" y="527.9" width="3.2" height="3.2" fill="none" stroke="#2e3f68" stroke-width="1.25"/>
<rect x="372.02" y="527.9" width="3.2" height="3.2" fill="none" stroke="#2e3f68" stroke-width="1.25"/>
<circle cx="388.62" cy="520.12" r="1.76" fill="#8e1030"/>
<circle cx="386.75" cy="523.25" r="1.76" fill="#8e1030"/>
<circle cx="391.12" cy="522.62" r="1.76" fill="#8e1030"/>
<circle cx="389.25" cy="524.75" r="1.76" fill="#8e1030"/>
<circle cx="386.12" cy="524.5" r="1.76" fill="#8e1030"/>
<circle cx="390.5" cy="525.75" r="1.76" fill="#8e1030"/>
<rect x="402.9" y="493.9" width="3.2" height="3.2" fill="none" stroke="#2e3f68" stroke-width="1.25"/>
<rect x="399.9" y="508.15" width="3.2" height="3.2" fill="none" stroke="#2e3f68" stroke-width="1.25"/>
<rect x="405.15" y="512.65" width="3.2" height="3.2" fill="none" stroke="#2e3f68" stroke-width="1.25"/>
<rect x="407.9" y="512.65" width="3.2" height="3.2" fill="none" stroke="#2e3f68" stroke-width="1.25"/>
<rect x="404.52" y="516.9" width="3.2" height="3.2" fill="none" stroke="#2e3f68" stroke-width="1.25"/>
<rect x="399.9" y="518.9" width="3.2" height="3.2" fill="none" stroke="#2e3f68" stroke-width="1.25"/>
<line x1="386.12" y1="475.88" x2="402" y2="475.88" stroke="#262626" stroke-width="1.25"/>
<circle cx="394.5" cy="471" r="1.15" fill="#1a1a1a"/>
<text x="482.3" y="460.5" font-size="8.8" text-anchor="middle" font-weight="bold" font-style="italic" fill="#111" stroke="#111" stroke-width="0.15" >Wnt11</text>
<line x1="451.9" y1="465.9" x2="451.9" y2="530.1" stroke="#111" stroke-width="1.35"/>
<line x1="448.7" y1="530.1" x2="513.4" y2="530.1" stroke="#111" stroke-width="1.3"/>
<line x1="448.7" y1="530.1" x2="451.9" y2="530.1" stroke="#111" stroke-width="1.15"/>
<text x="445.4" y="532.1" font-size="6.5" text-anchor="end" font-weight="normal" font-style="normal" fill="#333" stroke="#333" stroke-width="0.08" >0.00</text>
<line x1="448.7" y1="509.77" x2="451.9" y2="509.77" stroke="#111" stroke-width="1.15"/>
<text x="445.4" y="511.77" font-size="6.5" text-anchor="end" font-weight="normal" font-style="normal" fill="#333" stroke="#333" stroke-width="0.08" >0.01</text>
<line x1="448.7" y1="489.43" x2="451.9" y2="489.43" stroke="#111" stroke-width="1.15"/>
<text x="445.4" y="491.43" font-size="6.5" text-anchor="end" font-weight="normal" font-style="normal" fill="#333" stroke="#333" stroke-width="0.08" >0.02</text>
<line x1="448.7" y1="469.1" x2="451.9" y2="469.1" stroke="#111" stroke-width="1.15"/>
<text x="445.4" y="471.1" font-size="6.5" text-anchor="end" font-weight="normal" font-style="normal" fill="#333" stroke="#333" stroke-width="0.08" >0.03</text>
<text transform="translate(425.65,498.1) rotate(-90)" font-size="7.2" text-anchor="middle" fill="#1a1a1a" stroke="#1a1a1a" stroke-width="0.4" textLength="65" lengthAdjust="spacingAndGlyphs">Relative gene expression</text>
<line x1="459.3" y1="530.1" x2="459.3" y2="532.4" stroke="#111" stroke-width="1.15"/>
<text x="459.3" y="542.1" font-size="6.3" text-anchor="middle" font-weight="normal" font-style="normal" fill="#1e1e1e" stroke="#1e1e1e" stroke-width="0.22" >WT</text>
<line x1="474.5" y1="530.1" x2="474.5" y2="532.4" stroke="#111" stroke-width="1.15"/>
<text x="474.5" y="542.1" font-size="6.3" text-anchor="middle" font-weight="normal" font-style="normal" fill="#1e1e1e" stroke="#1e1e1e" stroke-width="0.22" >KO</text>
<line x1="489.5" y1="530.1" x2="489.5" y2="532.4" stroke="#111" stroke-width="1.15"/>
<text x="489.5" y="542.1" font-size="6.3" text-anchor="middle" font-weight="normal" font-style="normal" fill="#1e1e1e" stroke="#1e1e1e" stroke-width="0.22" >WT</text>
<line x1="505.2" y1="530.1" x2="505.2" y2="532.4" stroke="#111" stroke-width="1.15"/>
<text x="505.2" y="542.1" font-size="6.3" text-anchor="middle" font-weight="normal" font-style="normal" fill="#1e1e1e" stroke="#1e1e1e" stroke-width="0.22" >KO</text>
<line x1="456.3" y1="546.6" x2="477.3" y2="546.6" stroke="#2a2a2a" stroke-width="1.15"/>
<line x1="486.7" y1="546.6" x2="507.9" y2="546.6" stroke="#2a2a2a" stroke-width="1.15"/>
<text x="466.9" y="556" font-size="6.3" text-anchor="middle" font-weight="normal" font-style="normal" fill="#1e1e1e" stroke="#1e1e1e" stroke-width="0.22" >1.5 h</text>
<text x="497.1" y="556" font-size="6.3" text-anchor="middle" font-weight="normal" font-style="normal" fill="#1e1e1e" stroke="#1e1e1e" stroke-width="0.22" >3 h</text>
<line x1="459.3" y1="508.25" x2="459.3" y2="521.25" stroke="#161616" stroke-width="1.2"/>
<line x1="456.6" y1="508.25" x2="462" y2="508.25" stroke="#161616" stroke-width="1.2"/>
<line x1="456.6" y1="521.25" x2="462" y2="521.25" stroke="#161616" stroke-width="1.2"/>
<line x1="454.3" y1="514.88" x2="464.3" y2="514.88" stroke="#161616" stroke-width="1.3"/>
<line x1="474.5" y1="501.38" x2="474.5" y2="513.5" stroke="#161616" stroke-width="1.2"/>
<line x1="471.8" y1="501.38" x2="477.2" y2="501.38" stroke="#161616" stroke-width="1.2"/>
<line x1="471.8" y1="513.5" x2="477.2" y2="513.5" stroke="#161616" stroke-width="1.2"/>
<line x1="469.5" y1="507.62" x2="479.5" y2="507.62" stroke="#161616" stroke-width="1.3"/>
<line x1="489.5" y1="517" x2="489.5" y2="523.88" stroke="#161616" stroke-width="1.2"/>
<line x1="486.8" y1="517" x2="492.2" y2="517" stroke="#161616" stroke-width="1.2"/>
<line x1="486.8" y1="523.88" x2="492.2" y2="523.88" stroke="#161616" stroke-width="1.2"/>
<line x1="484.5" y1="520.5" x2="494.5" y2="520.5" stroke="#161616" stroke-width="1.3"/>
<line x1="505.2" y1="503.88" x2="505.2" y2="527" stroke="#161616" stroke-width="1.2"/>
<line x1="502.5" y1="503.88" x2="507.9" y2="503.88" stroke="#161616" stroke-width="1.2"/>
<line x1="502.5" y1="527" x2="507.9" y2="527" stroke="#161616" stroke-width="1.2"/>
<line x1="500.2" y1="515.5" x2="510.2" y2="515.5" stroke="#161616" stroke-width="1.3"/>
<circle cx="460" cy="490.12" r="1.76" fill="#8e1030"/>
<circle cx="457.12" cy="514.5" r="1.76" fill="#8e1030"/>
<circle cx="462.38" cy="518.88" r="1.76" fill="#8e1030"/>
<circle cx="462.38" cy="524.75" r="1.76" fill="#8e1030"/>
<circle cx="457.25" cy="526.25" r="1.76" fill="#8e1030"/>
<rect x="473.4" y="487.65" width="3.2" height="3.2" fill="none" stroke="#2e3f68" stroke-width="1.25"/>
<rect x="473.4" y="496.02" width="3.2" height="3.2" fill="none" stroke="#2e3f68" stroke-width="1.25"/>
<rect x="473.02" y="499.15" width="3.2" height="3.2" fill="none" stroke="#2e3f68" stroke-width="1.25"/>
<rect x="473.02" y="511.02" width="3.2" height="3.2" fill="none" stroke="#2e3f68" stroke-width="1.25"/>
<rect x="476.15" y="513.52" width="3.2" height="3.2" fill="none" stroke="#2e3f68" stroke-width="1.25"/>
<rect x="470.52" y="518.52" width="3.2" height="3.2" fill="none" stroke="#2e3f68" stroke-width="1.25"/>
<circle cx="489.62" cy="506.75" r="1.76" fill="#8e1030"/>
<circle cx="487.12" cy="523.25" r="1.76" fill="#8e1030"/>
<circle cx="492.12" cy="521.38" r="1.76" fill="#8e1030"/>
<circle cx="489.62" cy="524.5" r="1.76" fill="#8e1030"/>
<circle cx="488.38" cy="525.12" r="1.76" fill="#8e1030"/>
<circle cx="492.75" cy="523.5" r="1.76" fill="#8e1030"/>
<rect x="503.9" y="492.9" width="3.2" height="3.2" fill="none" stroke="#2e3f68" stroke-width="1.25"/>
<rect x="501.15" y="517.27" width="3.2" height="3.2" fill="none" stroke="#2e3f68" stroke-width="1.25"/>
<rect x="506.77" y="516.9" width="3.2" height="3.2" fill="none" stroke="#2e3f68" stroke-width="1.25"/>
<rect x="503.65" y="517.9" width="3.2" height="3.2" fill="none" stroke="#2e3f68" stroke-width="1.25"/>
<rect x="502.4" y="520.4" width="3.2" height="3.2" fill="none" stroke="#2e3f68" stroke-width="1.25"/>
<rect x="504.9" y="521.02" width="3.2" height="3.2" fill="none" stroke="#2e3f68" stroke-width="1.25"/>
</svg>
</body></html>
